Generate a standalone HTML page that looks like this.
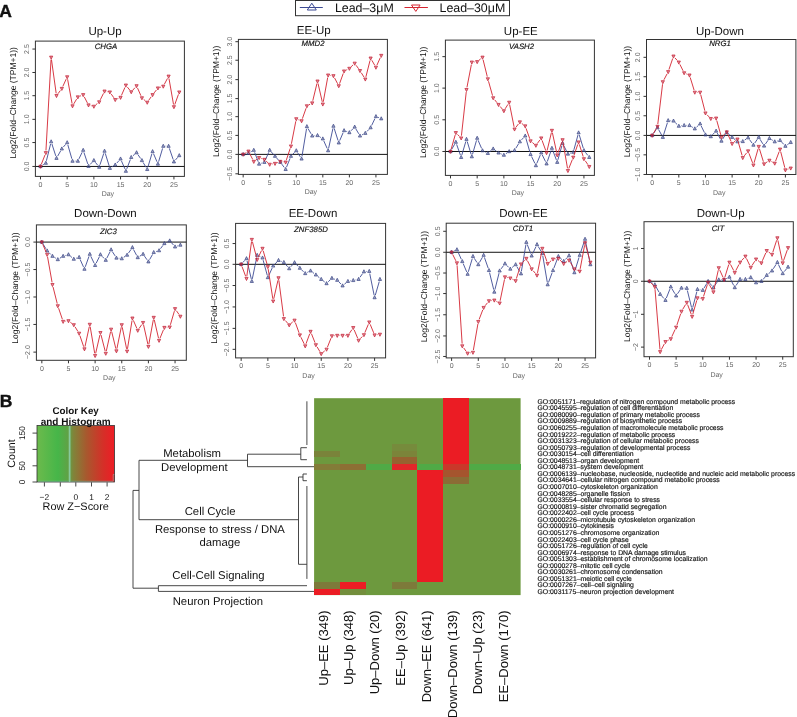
<!DOCTYPE html>
<html><head><meta charset="utf-8"><style>
html,body{margin:0;padding:0;background:#fff;}
svg{display:block;font-family:"Liberation Sans", sans-serif;text-rendering:geometricPrecision;will-change:transform;}
</style></head><body>
<svg width="797" height="717" viewBox="0 0 797 717">
<rect width="797" height="717" fill="#fff"/>
<text x="105.00" y="34.70" font-size="11.5" text-anchor="middle" fill="#111">Up-Up</text>
<text x="106.00" y="49.30" font-size="7.8" font-style="italic" text-anchor="middle" fill="#111" stroke="#111" stroke-width="0.15">CHGA</text>
<rect x="35.40" y="41.10" width="149.00" height="135.30" fill="none" stroke="#333" stroke-width="1"/>
<line x1="35.40" y1="166.44" x2="184.40" y2="166.44" stroke="#111" stroke-width="1"/>
<line x1="32.40" y1="166.44" x2="35.40" y2="166.44" stroke="#333" stroke-width="1"/>
<text transform="translate(28.90,166.44) rotate(-90)" font-size="7" text-anchor="middle" fill="#666">0.0</text>
<line x1="32.40" y1="142.56" x2="35.40" y2="142.56" stroke="#333" stroke-width="1"/>
<text transform="translate(28.90,142.56) rotate(-90)" font-size="7" text-anchor="middle" fill="#666">0.5</text>
<line x1="32.40" y1="119.35" x2="35.40" y2="119.35" stroke="#333" stroke-width="1"/>
<text transform="translate(28.90,119.35) rotate(-90)" font-size="7" text-anchor="middle" fill="#666">1.0</text>
<line x1="32.40" y1="95.70" x2="35.40" y2="95.70" stroke="#333" stroke-width="1"/>
<text transform="translate(28.90,95.70) rotate(-90)" font-size="7" text-anchor="middle" fill="#666">1.5</text>
<line x1="32.40" y1="72.49" x2="35.40" y2="72.49" stroke="#333" stroke-width="1"/>
<text transform="translate(28.90,72.49) rotate(-90)" font-size="7" text-anchor="middle" fill="#666">2.0</text>
<line x1="32.40" y1="49.06" x2="35.40" y2="49.06" stroke="#333" stroke-width="1"/>
<text transform="translate(28.90,49.06) rotate(-90)" font-size="7" text-anchor="middle" fill="#666">2.5</text>
<line x1="40.49" y1="176.40" x2="40.49" y2="179.40" stroke="#333" stroke-width="1"/>
<text x="40.49" y="186.60" font-size="7" text-anchor="middle" fill="#666">0</text>
<line x1="67.18" y1="176.40" x2="67.18" y2="179.40" stroke="#333" stroke-width="1"/>
<text x="67.18" y="186.60" font-size="7" text-anchor="middle" fill="#666">5</text>
<line x1="93.87" y1="176.40" x2="93.87" y2="179.40" stroke="#333" stroke-width="1"/>
<text x="93.87" y="186.60" font-size="7" text-anchor="middle" fill="#666">10</text>
<line x1="120.56" y1="176.40" x2="120.56" y2="179.40" stroke="#333" stroke-width="1"/>
<text x="120.56" y="186.60" font-size="7" text-anchor="middle" fill="#666">15</text>
<line x1="147.24" y1="176.40" x2="147.24" y2="179.40" stroke="#333" stroke-width="1"/>
<text x="147.24" y="186.60" font-size="7" text-anchor="middle" fill="#666">20</text>
<line x1="173.93" y1="176.40" x2="173.93" y2="179.40" stroke="#333" stroke-width="1"/>
<text x="173.93" y="186.60" font-size="7" text-anchor="middle" fill="#666">25</text>
<text x="107.90" y="196.40" font-size="7" text-anchor="middle" fill="#666">Day</text>
<text transform="translate(16.40,102.75) rotate(-90)" font-size="8.5" text-anchor="middle" fill="#111">Log2(Fold–Change (TPM+1))</text>
<path d="M42.52,165.16L43.79,164.36M46.41,160.76L50.58,144.00M51.90,143.95L55.76,155.90M57.69,156.09L60.65,150.89M63.40,146.98L65.62,144.38M67.84,144.87L71.85,158.77M74.91,161.08L75.45,161.08M78.91,158.92L82.14,152.30M83.95,152.42L87.77,163.94M90.15,164.45L92.24,162.18M95.36,162.29L97.71,165.23M99.96,164.83L103.79,153.32M105.25,153.33L109.17,165.93M111.91,166.95L113.18,166.15M116.81,163.08L118.96,160.65M121.51,161.05L124.94,168.92M126.76,168.88L130.37,159.53M133.03,155.70L134.76,154.18M137.92,154.58L140.55,158.43M143.14,162.47L146.01,167.28M147.93,167.04L151.89,153.78M153.52,153.69L156.98,161.77M158.61,161.68L162.57,148.43M165.66,146.13L166.20,146.13M169.37,148.40L173.16,159.48M175.49,159.93L177.71,157.33" fill="none" stroke="#3d4b94" stroke-width="0.9"/>
<path d="M38.89,167.64L40.49,164.54L42.09,167.64Z" fill="#3a4585" fill-opacity="0.5" stroke="#3a4585" stroke-width="0.7"/>
<path d="M44.23,164.29L45.83,161.19L47.43,164.29Z" fill="#3a4585" fill-opacity="0.5" stroke="#3a4585" stroke-width="0.7"/>
<path d="M49.56,142.87L51.16,139.77L52.76,142.87Z" fill="#3a4585" fill-opacity="0.5" stroke="#3a4585" stroke-width="0.7"/>
<path d="M54.90,159.38L56.50,156.28L58.10,159.38Z" fill="#3a4585" fill-opacity="0.5" stroke="#3a4585" stroke-width="0.7"/>
<path d="M60.24,150.01L61.84,146.91L63.44,150.01Z" fill="#3a4585" fill-opacity="0.5" stroke="#3a4585" stroke-width="0.7"/>
<path d="M65.58,143.76L67.18,140.66L68.78,143.76Z" fill="#3a4585" fill-opacity="0.5" stroke="#3a4585" stroke-width="0.7"/>
<path d="M70.91,162.28L72.51,159.18L74.11,162.28Z" fill="#3a4585" fill-opacity="0.5" stroke="#3a4585" stroke-width="0.7"/>
<path d="M76.25,162.28L77.85,159.18L79.45,162.28Z" fill="#3a4585" fill-opacity="0.5" stroke="#3a4585" stroke-width="0.7"/>
<path d="M81.59,151.35L83.19,148.25L84.79,151.35Z" fill="#3a4585" fill-opacity="0.5" stroke="#3a4585" stroke-width="0.7"/>
<path d="M86.93,167.41L88.53,164.31L90.13,167.41Z" fill="#3a4585" fill-opacity="0.5" stroke="#3a4585" stroke-width="0.7"/>
<path d="M92.27,161.61L93.87,158.51L95.47,161.61Z" fill="#3a4585" fill-opacity="0.5" stroke="#3a4585" stroke-width="0.7"/>
<path d="M97.60,168.31L99.20,165.21L100.80,168.31Z" fill="#3a4585" fill-opacity="0.5" stroke="#3a4585" stroke-width="0.7"/>
<path d="M102.94,152.24L104.54,149.14L106.14,152.24Z" fill="#3a4585" fill-opacity="0.5" stroke="#3a4585" stroke-width="0.7"/>
<path d="M108.28,169.42L109.88,166.32L111.48,169.42Z" fill="#3a4585" fill-opacity="0.5" stroke="#3a4585" stroke-width="0.7"/>
<path d="M113.62,166.07L115.22,162.97L116.82,166.07Z" fill="#3a4585" fill-opacity="0.5" stroke="#3a4585" stroke-width="0.7"/>
<path d="M118.96,160.05L120.56,156.95L122.16,160.05Z" fill="#3a4585" fill-opacity="0.5" stroke="#3a4585" stroke-width="0.7"/>
<path d="M124.29,172.32L125.89,169.22L127.49,172.32Z" fill="#3a4585" fill-opacity="0.5" stroke="#3a4585" stroke-width="0.7"/>
<path d="M129.63,158.49L131.23,155.39L132.83,158.49Z" fill="#3a4585" fill-opacity="0.5" stroke="#3a4585" stroke-width="0.7"/>
<path d="M134.97,153.80L136.57,150.70L138.17,153.80Z" fill="#3a4585" fill-opacity="0.5" stroke="#3a4585" stroke-width="0.7"/>
<path d="M140.31,161.61L141.91,158.51L143.51,161.61Z" fill="#3a4585" fill-opacity="0.5" stroke="#3a4585" stroke-width="0.7"/>
<path d="M145.64,170.54L147.24,167.44L148.84,170.54Z" fill="#3a4585" fill-opacity="0.5" stroke="#3a4585" stroke-width="0.7"/>
<path d="M150.98,152.69L152.58,149.59L154.18,152.69Z" fill="#3a4585" fill-opacity="0.5" stroke="#3a4585" stroke-width="0.7"/>
<path d="M156.32,165.18L157.92,162.08L159.52,165.18Z" fill="#3a4585" fill-opacity="0.5" stroke="#3a4585" stroke-width="0.7"/>
<path d="M161.66,147.33L163.26,144.23L164.86,147.33Z" fill="#3a4585" fill-opacity="0.5" stroke="#3a4585" stroke-width="0.7"/>
<path d="M167.00,147.33L168.60,144.23L170.20,147.33Z" fill="#3a4585" fill-opacity="0.5" stroke="#3a4585" stroke-width="0.7"/>
<path d="M172.33,162.95L173.93,159.85L175.53,162.95Z" fill="#3a4585" fill-opacity="0.5" stroke="#3a4585" stroke-width="0.7"/>
<path d="M177.67,156.70L179.27,153.60L180.87,156.70Z" fill="#3a4585" fill-opacity="0.5" stroke="#3a4585" stroke-width="0.7"/>
<path d="M41.36,164.20L44.95,155.06M45.96,150.43L51.03,59.71M51.49,59.69L56.17,93.32M57.94,93.78L60.40,90.48M62.84,86.38L66.17,79.13M67.61,79.31L72.08,103.60M73.75,103.90L76.62,99.10M80.07,96.11L80.98,95.73M84.30,96.93L87.42,102.94M90.86,105.65L91.54,105.82M95.71,104.87L97.36,103.49M100.27,99.80L103.47,93.38M106.91,91.63L107.51,91.73M111.26,94.09L113.84,97.75M117.43,98.79L118.34,98.41M121.51,95.28L124.94,87.41M127.39,87.09L129.73,90.03M132.82,90.11L134.98,87.68M137.54,88.07L140.93,95.73M143.75,99.47L145.40,100.85M148.63,100.43L151.20,96.77M154.08,92.93L156.42,89.99M160.20,87.35L160.98,87.09M164.38,84.21L167.47,78.40M169.01,78.65L173.52,104.49M174.75,104.60L178.45,94.38" fill="none" stroke="#d42430" stroke-width="0.9"/>
<path d="M38.89,165.24L40.49,168.34L42.09,165.24Z" fill="#c41c32" fill-opacity="0.5" stroke="#c41c32" stroke-width="0.7"/>
<path d="M44.23,151.62L45.83,154.72L47.43,151.62Z" fill="#c41c32" fill-opacity="0.5" stroke="#c41c32" stroke-width="0.7"/>
<path d="M49.56,56.12L51.16,59.22L52.76,56.12Z" fill="#c41c32" fill-opacity="0.5" stroke="#c41c32" stroke-width="0.7"/>
<path d="M54.90,94.50L56.50,97.60L58.10,94.50Z" fill="#c41c32" fill-opacity="0.5" stroke="#c41c32" stroke-width="0.7"/>
<path d="M60.24,87.36L61.84,90.46L63.44,87.36Z" fill="#c41c32" fill-opacity="0.5" stroke="#c41c32" stroke-width="0.7"/>
<path d="M65.58,75.75L67.18,78.85L68.78,75.75Z" fill="#c41c32" fill-opacity="0.5" stroke="#c41c32" stroke-width="0.7"/>
<path d="M70.91,104.76L72.51,107.86L74.11,104.76Z" fill="#c41c32" fill-opacity="0.5" stroke="#c41c32" stroke-width="0.7"/>
<path d="M76.25,95.84L77.85,98.94L79.45,95.84Z" fill="#c41c32" fill-opacity="0.5" stroke="#c41c32" stroke-width="0.7"/>
<path d="M81.59,93.60L83.19,96.70L84.79,93.60Z" fill="#c41c32" fill-opacity="0.5" stroke="#c41c32" stroke-width="0.7"/>
<path d="M86.93,103.87L88.53,106.97L90.13,103.87Z" fill="#c41c32" fill-opacity="0.5" stroke="#c41c32" stroke-width="0.7"/>
<path d="M92.27,105.21L93.87,108.31L95.47,105.21Z" fill="#c41c32" fill-opacity="0.5" stroke="#c41c32" stroke-width="0.7"/>
<path d="M97.60,100.75L99.20,103.85L100.80,100.75Z" fill="#c41c32" fill-opacity="0.5" stroke="#c41c32" stroke-width="0.7"/>
<path d="M102.94,90.03L104.54,93.13L106.14,90.03Z" fill="#c41c32" fill-opacity="0.5" stroke="#c41c32" stroke-width="0.7"/>
<path d="M108.28,90.93L109.88,94.03L111.48,90.93Z" fill="#c41c32" fill-opacity="0.5" stroke="#c41c32" stroke-width="0.7"/>
<path d="M113.62,98.51L115.22,101.61L116.82,98.51Z" fill="#c41c32" fill-opacity="0.5" stroke="#c41c32" stroke-width="0.7"/>
<path d="M118.96,96.28L120.56,99.38L122.16,96.28Z" fill="#c41c32" fill-opacity="0.5" stroke="#c41c32" stroke-width="0.7"/>
<path d="M124.29,84.01L125.89,87.11L127.49,84.01Z" fill="#c41c32" fill-opacity="0.5" stroke="#c41c32" stroke-width="0.7"/>
<path d="M129.63,90.70L131.23,93.80L132.83,90.70Z" fill="#c41c32" fill-opacity="0.5" stroke="#c41c32" stroke-width="0.7"/>
<path d="M134.97,84.68L136.57,87.78L138.17,84.68Z" fill="#c41c32" fill-opacity="0.5" stroke="#c41c32" stroke-width="0.7"/>
<path d="M140.31,96.73L141.91,99.83L143.51,96.73Z" fill="#c41c32" fill-opacity="0.5" stroke="#c41c32" stroke-width="0.7"/>
<path d="M145.64,101.19L147.24,104.29L148.84,101.19Z" fill="#c41c32" fill-opacity="0.5" stroke="#c41c32" stroke-width="0.7"/>
<path d="M150.98,93.60L152.58,96.70L154.18,93.60Z" fill="#c41c32" fill-opacity="0.5" stroke="#c41c32" stroke-width="0.7"/>
<path d="M156.32,86.91L157.92,90.01L159.52,86.91Z" fill="#c41c32" fill-opacity="0.5" stroke="#c41c32" stroke-width="0.7"/>
<path d="M161.66,85.12L163.26,88.22L164.86,85.12Z" fill="#c41c32" fill-opacity="0.5" stroke="#c41c32" stroke-width="0.7"/>
<path d="M167.00,75.08L168.60,78.18L170.20,75.08Z" fill="#c41c32" fill-opacity="0.5" stroke="#c41c32" stroke-width="0.7"/>
<path d="M172.33,105.65L173.93,108.75L175.53,105.65Z" fill="#c41c32" fill-opacity="0.5" stroke="#c41c32" stroke-width="0.7"/>
<path d="M177.67,90.93L179.27,94.03L180.87,90.93Z" fill="#c41c32" fill-opacity="0.5" stroke="#c41c32" stroke-width="0.7"/>
<text x="313.70" y="34.40" font-size="11.5" text-anchor="middle" fill="#111">EE-Up</text>
<text x="313.00" y="45.90" font-size="7.8" font-style="italic" text-anchor="middle" fill="#111" stroke="#111" stroke-width="0.15">MMD2</text>
<rect x="238.40" y="39.40" width="149.00" height="135.00" fill="none" stroke="#333" stroke-width="1"/>
<line x1="238.40" y1="154.39" x2="387.40" y2="154.39" stroke="#111" stroke-width="1"/>
<line x1="235.40" y1="173.80" x2="238.40" y2="173.80" stroke="#333" stroke-width="1"/>
<text transform="translate(231.90,173.80) rotate(-90)" font-size="7" text-anchor="middle" fill="#666">−0.5</text>
<line x1="235.40" y1="154.39" x2="238.40" y2="154.39" stroke="#333" stroke-width="1"/>
<text transform="translate(231.90,154.39) rotate(-90)" font-size="7" text-anchor="middle" fill="#666">0.0</text>
<line x1="235.40" y1="135.42" x2="238.40" y2="135.42" stroke="#333" stroke-width="1"/>
<text transform="translate(231.90,135.42) rotate(-90)" font-size="7" text-anchor="middle" fill="#666">0.5</text>
<line x1="235.40" y1="116.67" x2="238.40" y2="116.67" stroke="#333" stroke-width="1"/>
<text transform="translate(231.90,116.67) rotate(-90)" font-size="7" text-anchor="middle" fill="#666">1.0</text>
<line x1="235.40" y1="98.60" x2="238.40" y2="98.60" stroke="#333" stroke-width="1"/>
<text transform="translate(231.90,98.60) rotate(-90)" font-size="7" text-anchor="middle" fill="#666">1.5</text>
<line x1="235.40" y1="79.63" x2="238.40" y2="79.63" stroke="#333" stroke-width="1"/>
<text transform="translate(231.90,79.63) rotate(-90)" font-size="7" text-anchor="middle" fill="#666">2.0</text>
<line x1="235.40" y1="60.22" x2="238.40" y2="60.22" stroke="#333" stroke-width="1"/>
<text transform="translate(231.90,60.22) rotate(-90)" font-size="7" text-anchor="middle" fill="#666">2.5</text>
<line x1="235.40" y1="41.69" x2="238.40" y2="41.69" stroke="#333" stroke-width="1"/>
<text transform="translate(231.90,41.69) rotate(-90)" font-size="7" text-anchor="middle" fill="#666">3.0</text>
<line x1="243.16" y1="174.40" x2="243.16" y2="177.40" stroke="#333" stroke-width="1"/>
<text x="243.16" y="184.60" font-size="7" text-anchor="middle" fill="#666">0</text>
<line x1="269.71" y1="174.40" x2="269.71" y2="177.40" stroke="#333" stroke-width="1"/>
<text x="269.71" y="184.60" font-size="7" text-anchor="middle" fill="#666">5</text>
<line x1="296.27" y1="174.40" x2="296.27" y2="177.40" stroke="#333" stroke-width="1"/>
<text x="296.27" y="184.60" font-size="7" text-anchor="middle" fill="#666">10</text>
<line x1="322.82" y1="174.40" x2="322.82" y2="177.40" stroke="#333" stroke-width="1"/>
<text x="322.82" y="184.60" font-size="7" text-anchor="middle" fill="#666">15</text>
<line x1="349.38" y1="174.40" x2="349.38" y2="177.40" stroke="#333" stroke-width="1"/>
<text x="349.38" y="184.60" font-size="7" text-anchor="middle" fill="#666">20</text>
<line x1="375.93" y1="174.40" x2="375.93" y2="177.40" stroke="#333" stroke-width="1"/>
<text x="375.93" y="184.60" font-size="7" text-anchor="middle" fill="#666">25</text>
<text x="310.90" y="194.40" font-size="7" text-anchor="middle" fill="#666">Day</text>
<text transform="translate(219.40,101.40) rotate(-90)" font-size="8.5" text-anchor="middle" fill="#111">Log2(Fold–Change (TPM+1))</text>
<path d="M245.51,153.89L246.12,153.76M250.54,152.05L251.71,151.36M254.64,152.39L258.23,161.74M261.37,163.22L262.13,162.96M265.37,160.00L268.74,152.34M271.30,151.95L273.44,154.37M276.61,157.97L278.75,160.40M281.77,164.12L284.21,167.41M286.54,167.11L290.06,158.40M292.61,154.43L294.61,152.33M297.57,152.61L300.28,156.83M301.97,156.48L306.50,128.86M308.07,128.58L311.02,133.78M314.59,135.66L315.12,135.62M319.54,136.70L320.79,137.49M323.81,140.96L327.15,148.40M328.64,148.25L332.94,128.39M334.17,128.33L338.03,140.49M339.71,140.58L343.11,132.71M346.31,131.36L347.13,131.67M351.03,130.78L353.03,128.68M355.92,129.00L358.77,133.80M362.14,134.78L363.17,134.27M366.97,131.45L368.97,129.35M371.65,125.44L374.90,118.62M378.15,117.38L379.03,117.75" fill="none" stroke="#3d4b94" stroke-width="0.9"/>
<path d="M241.56,155.59L243.16,152.49L244.76,155.59Z" fill="#3a4585" fill-opacity="0.5" stroke="#3a4585" stroke-width="0.7"/>
<path d="M246.87,154.47L248.47,151.37L250.07,154.47Z" fill="#3a4585" fill-opacity="0.5" stroke="#3a4585" stroke-width="0.7"/>
<path d="M252.18,151.35L253.78,148.25L255.38,151.35Z" fill="#3a4585" fill-opacity="0.5" stroke="#3a4585" stroke-width="0.7"/>
<path d="M257.49,165.18L259.09,162.08L260.69,165.18Z" fill="#3a4585" fill-opacity="0.5" stroke="#3a4585" stroke-width="0.7"/>
<path d="M262.80,163.40L264.40,160.30L266.00,163.40Z" fill="#3a4585" fill-opacity="0.5" stroke="#3a4585" stroke-width="0.7"/>
<path d="M268.11,151.35L269.71,148.25L271.31,151.35Z" fill="#3a4585" fill-opacity="0.5" stroke="#3a4585" stroke-width="0.7"/>
<path d="M273.42,157.37L275.02,154.27L276.62,157.37Z" fill="#3a4585" fill-opacity="0.5" stroke="#3a4585" stroke-width="0.7"/>
<path d="M278.73,163.40L280.33,160.30L281.93,163.40Z" fill="#3a4585" fill-opacity="0.5" stroke="#3a4585" stroke-width="0.7"/>
<path d="M284.05,170.54L285.65,167.44L287.25,170.54Z" fill="#3a4585" fill-opacity="0.5" stroke="#3a4585" stroke-width="0.7"/>
<path d="M289.36,157.37L290.96,154.27L292.56,157.37Z" fill="#3a4585" fill-opacity="0.5" stroke="#3a4585" stroke-width="0.7"/>
<path d="M294.67,151.79L296.27,148.69L297.87,151.79Z" fill="#3a4585" fill-opacity="0.5" stroke="#3a4585" stroke-width="0.7"/>
<path d="M299.98,160.05L301.58,156.95L303.18,160.05Z" fill="#3a4585" fill-opacity="0.5" stroke="#3a4585" stroke-width="0.7"/>
<path d="M305.29,127.69L306.89,124.59L308.49,127.69Z" fill="#3a4585" fill-opacity="0.5" stroke="#3a4585" stroke-width="0.7"/>
<path d="M310.60,137.06L312.20,133.96L313.80,137.06Z" fill="#3a4585" fill-opacity="0.5" stroke="#3a4585" stroke-width="0.7"/>
<path d="M315.91,136.62L317.51,133.52L319.11,136.62Z" fill="#3a4585" fill-opacity="0.5" stroke="#3a4585" stroke-width="0.7"/>
<path d="M321.22,139.97L322.82,136.87L324.42,139.97Z" fill="#3a4585" fill-opacity="0.5" stroke="#3a4585" stroke-width="0.7"/>
<path d="M326.53,151.79L328.13,148.69L329.73,151.79Z" fill="#3a4585" fill-opacity="0.5" stroke="#3a4585" stroke-width="0.7"/>
<path d="M331.84,127.25L333.44,124.15L335.04,127.25Z" fill="#3a4585" fill-opacity="0.5" stroke="#3a4585" stroke-width="0.7"/>
<path d="M337.16,143.98L338.76,140.88L340.36,143.98Z" fill="#3a4585" fill-opacity="0.5" stroke="#3a4585" stroke-width="0.7"/>
<path d="M342.47,131.71L344.07,128.61L345.67,131.71Z" fill="#3a4585" fill-opacity="0.5" stroke="#3a4585" stroke-width="0.7"/>
<path d="M347.78,133.72L349.38,130.62L350.98,133.72Z" fill="#3a4585" fill-opacity="0.5" stroke="#3a4585" stroke-width="0.7"/>
<path d="M353.09,128.14L354.69,125.04L356.29,128.14Z" fill="#3a4585" fill-opacity="0.5" stroke="#3a4585" stroke-width="0.7"/>
<path d="M358.40,137.06L360.00,133.96L361.60,137.06Z" fill="#3a4585" fill-opacity="0.5" stroke="#3a4585" stroke-width="0.7"/>
<path d="M363.71,134.39L365.31,131.29L366.91,134.39Z" fill="#3a4585" fill-opacity="0.5" stroke="#3a4585" stroke-width="0.7"/>
<path d="M369.02,128.81L370.62,125.71L372.22,128.81Z" fill="#3a4585" fill-opacity="0.5" stroke="#3a4585" stroke-width="0.7"/>
<path d="M374.33,117.65L375.93,114.55L377.53,117.65Z" fill="#3a4585" fill-opacity="0.5" stroke="#3a4585" stroke-width="0.7"/>
<path d="M379.64,119.88L381.24,116.78L382.84,119.88Z" fill="#3a4585" fill-opacity="0.5" stroke="#3a4585" stroke-width="0.7"/>
<path d="M245.23,153.17L246.40,152.48M249.57,153.39L252.68,159.40M255.73,160.13L257.14,159.13M261.37,158.50L262.13,158.75M266.16,161.15L267.95,162.80M272.08,164.03L272.66,163.93M277.27,162.69L278.09,162.38M282.72,161.83L283.26,161.90M286.40,159.92L290.20,148.41M291.42,143.77L295.81,121.26M298.51,119.75L299.33,120.06M302.38,118.65L306.09,108.22M309.00,104.81L310.09,104.21M312.77,100.73L316.95,83.52M318.05,83.53L322.28,101.84M323.26,101.82L327.70,77.53M330.52,75.47L331.06,75.54M334.57,77.96L337.63,83.76M339.57,83.62L343.25,73.41M346.21,70.07L347.23,69.55M351.10,66.81L352.96,65.01M356.09,65.29L358.60,68.76M361.27,72.74L364.04,77.15M365.90,76.86L370.03,60.53M371.83,60.28L374.73,65.28M376.92,65.17L380.26,57.72" fill="none" stroke="#d42430" stroke-width="0.9"/>
<path d="M241.56,153.19L243.16,156.29L244.76,153.19Z" fill="#c41c32" fill-opacity="0.5" stroke="#c41c32" stroke-width="0.7"/>
<path d="M246.87,150.06L248.47,153.16L250.07,150.06Z" fill="#c41c32" fill-opacity="0.5" stroke="#c41c32" stroke-width="0.7"/>
<path d="M252.18,160.33L253.78,163.43L255.38,160.33Z" fill="#c41c32" fill-opacity="0.5" stroke="#c41c32" stroke-width="0.7"/>
<path d="M257.49,156.53L259.09,159.63L260.69,156.53Z" fill="#c41c32" fill-opacity="0.5" stroke="#c41c32" stroke-width="0.7"/>
<path d="M262.80,158.32L264.40,161.42L266.00,158.32Z" fill="#c41c32" fill-opacity="0.5" stroke="#c41c32" stroke-width="0.7"/>
<path d="M268.11,163.23L269.71,166.33L271.31,163.23Z" fill="#c41c32" fill-opacity="0.5" stroke="#c41c32" stroke-width="0.7"/>
<path d="M273.42,162.34L275.02,165.44L276.62,162.34Z" fill="#c41c32" fill-opacity="0.5" stroke="#c41c32" stroke-width="0.7"/>
<path d="M278.73,160.33L280.33,163.43L281.93,160.33Z" fill="#c41c32" fill-opacity="0.5" stroke="#c41c32" stroke-width="0.7"/>
<path d="M284.05,161.00L285.65,164.10L287.25,161.00Z" fill="#c41c32" fill-opacity="0.5" stroke="#c41c32" stroke-width="0.7"/>
<path d="M289.36,144.93L290.96,148.03L292.56,144.93Z" fill="#c41c32" fill-opacity="0.5" stroke="#c41c32" stroke-width="0.7"/>
<path d="M294.67,117.71L296.27,120.81L297.87,117.71Z" fill="#c41c32" fill-opacity="0.5" stroke="#c41c32" stroke-width="0.7"/>
<path d="M299.98,119.71L301.58,122.81L303.18,119.71Z" fill="#c41c32" fill-opacity="0.5" stroke="#c41c32" stroke-width="0.7"/>
<path d="M305.29,104.76L306.89,107.86L308.49,104.76Z" fill="#c41c32" fill-opacity="0.5" stroke="#c41c32" stroke-width="0.7"/>
<path d="M310.60,101.86L312.20,104.96L313.80,101.86Z" fill="#c41c32" fill-opacity="0.5" stroke="#c41c32" stroke-width="0.7"/>
<path d="M315.91,79.99L317.51,83.09L319.11,79.99Z" fill="#c41c32" fill-opacity="0.5" stroke="#c41c32" stroke-width="0.7"/>
<path d="M321.22,102.98L322.82,106.08L324.42,102.98Z" fill="#c41c32" fill-opacity="0.5" stroke="#c41c32" stroke-width="0.7"/>
<path d="M326.53,73.97L328.13,77.07L329.73,73.97Z" fill="#c41c32" fill-opacity="0.5" stroke="#c41c32" stroke-width="0.7"/>
<path d="M331.84,74.64L333.44,77.74L335.04,74.64Z" fill="#c41c32" fill-opacity="0.5" stroke="#c41c32" stroke-width="0.7"/>
<path d="M337.16,84.68L338.76,87.78L340.36,84.68Z" fill="#c41c32" fill-opacity="0.5" stroke="#c41c32" stroke-width="0.7"/>
<path d="M342.47,69.95L344.07,73.05L345.67,69.95Z" fill="#c41c32" fill-opacity="0.5" stroke="#c41c32" stroke-width="0.7"/>
<path d="M347.78,67.27L349.38,70.37L350.98,67.27Z" fill="#c41c32" fill-opacity="0.5" stroke="#c41c32" stroke-width="0.7"/>
<path d="M353.09,62.14L354.69,65.24L356.29,62.14Z" fill="#c41c32" fill-opacity="0.5" stroke="#c41c32" stroke-width="0.7"/>
<path d="M358.40,69.50L360.00,72.60L361.60,69.50Z" fill="#c41c32" fill-opacity="0.5" stroke="#c41c32" stroke-width="0.7"/>
<path d="M363.71,77.98L365.31,81.08L366.91,77.98Z" fill="#c41c32" fill-opacity="0.5" stroke="#c41c32" stroke-width="0.7"/>
<path d="M369.02,57.01L370.62,60.11L372.22,57.01Z" fill="#c41c32" fill-opacity="0.5" stroke="#c41c32" stroke-width="0.7"/>
<path d="M374.33,66.16L375.93,69.26L377.53,66.16Z" fill="#c41c32" fill-opacity="0.5" stroke="#c41c32" stroke-width="0.7"/>
<path d="M379.64,54.33L381.24,57.43L382.84,54.33Z" fill="#c41c32" fill-opacity="0.5" stroke="#c41c32" stroke-width="0.7"/>
<text x="520.80" y="34.60" font-size="11.5" text-anchor="middle" fill="#111">Up-EE</text>
<text x="521.50" y="49.30" font-size="7.8" font-style="italic" text-anchor="middle" fill="#111" stroke="#111" stroke-width="0.15">VASH2</text>
<rect x="445.40" y="40.10" width="149.00" height="135.30" fill="none" stroke="#333" stroke-width="1"/>
<line x1="445.40" y1="151.49" x2="594.40" y2="151.49" stroke="#111" stroke-width="1"/>
<line x1="442.40" y1="151.49" x2="445.40" y2="151.49" stroke="#333" stroke-width="1"/>
<text transform="translate(438.90,151.49) rotate(-90)" font-size="7" text-anchor="middle" fill="#666">0.0</text>
<line x1="442.40" y1="119.80" x2="445.40" y2="119.80" stroke="#333" stroke-width="1"/>
<text transform="translate(438.90,119.80) rotate(-90)" font-size="7" text-anchor="middle" fill="#666">0.5</text>
<line x1="442.40" y1="88.11" x2="445.40" y2="88.11" stroke="#333" stroke-width="1"/>
<text transform="translate(438.90,88.11) rotate(-90)" font-size="7" text-anchor="middle" fill="#666">1.0</text>
<line x1="442.40" y1="56.65" x2="445.40" y2="56.65" stroke="#333" stroke-width="1"/>
<text transform="translate(438.90,56.65) rotate(-90)" font-size="7" text-anchor="middle" fill="#666">1.5</text>
<line x1="450.49" y1="175.40" x2="450.49" y2="178.40" stroke="#333" stroke-width="1"/>
<text x="450.49" y="185.60" font-size="7" text-anchor="middle" fill="#666">0</text>
<line x1="477.18" y1="175.40" x2="477.18" y2="178.40" stroke="#333" stroke-width="1"/>
<text x="477.18" y="185.60" font-size="7" text-anchor="middle" fill="#666">5</text>
<line x1="503.87" y1="175.40" x2="503.87" y2="178.40" stroke="#333" stroke-width="1"/>
<text x="503.87" y="185.60" font-size="7" text-anchor="middle" fill="#666">10</text>
<line x1="530.56" y1="175.40" x2="530.56" y2="178.40" stroke="#333" stroke-width="1"/>
<text x="530.56" y="185.60" font-size="7" text-anchor="middle" fill="#666">15</text>
<line x1="557.24" y1="175.40" x2="557.24" y2="178.40" stroke="#333" stroke-width="1"/>
<text x="557.24" y="185.60" font-size="7" text-anchor="middle" fill="#666">20</text>
<line x1="583.93" y1="175.40" x2="583.93" y2="178.40" stroke="#333" stroke-width="1"/>
<text x="583.93" y="185.60" font-size="7" text-anchor="middle" fill="#666">25</text>
<text x="517.90" y="195.40" font-size="7" text-anchor="middle" fill="#666">Day</text>
<text transform="translate(426.40,102.25) rotate(-90)" font-size="8.5" text-anchor="middle" fill="#111">Log2(Fold–Change (TPM+1))</text>
<path d="M451.68,149.40L454.64,144.20M456.62,144.38L460.37,155.02M461.84,154.99L465.82,141.51M467.21,141.51L471.14,154.32M472.50,154.31L476.51,140.40M478.12,140.30L481.57,148.39M484.66,151.67L485.71,152.19M489.69,151.73L491.35,150.35M495.11,150.25L496.61,151.38M500.74,153.75L501.65,154.13M505.86,153.72L507.21,152.82M511.55,150.99L512.19,150.86M515.80,148.32L518.62,143.71M521.50,139.90L523.59,137.63M525.88,138.17L529.89,152.08M531.59,156.55L534.86,163.38M536.82,163.33L540.30,155.04M542.28,154.98L545.52,161.60M547.34,161.49L551.13,150.41M552.76,150.38L556.39,159.95M557.89,159.89L561.93,145.54M563.65,145.38L566.85,151.79M570.20,153.18L570.98,152.92M573.89,149.84L577.96,135.05M579.29,135.04L583.24,148.07M585.40,152.27L587.80,155.39" fill="none" stroke="#3d4b94" stroke-width="0.9"/>
<path d="M448.89,152.69L450.49,149.59L452.09,152.69Z" fill="#3a4585" fill-opacity="0.5" stroke="#3a4585" stroke-width="0.7"/>
<path d="M454.23,143.31L455.83,140.21L457.43,143.31Z" fill="#3a4585" fill-opacity="0.5" stroke="#3a4585" stroke-width="0.7"/>
<path d="M459.56,158.49L461.16,155.39L462.76,158.49Z" fill="#3a4585" fill-opacity="0.5" stroke="#3a4585" stroke-width="0.7"/>
<path d="M464.90,140.41L466.50,137.31L468.10,140.41Z" fill="#3a4585" fill-opacity="0.5" stroke="#3a4585" stroke-width="0.7"/>
<path d="M470.24,157.82L471.84,154.72L473.44,157.82Z" fill="#3a4585" fill-opacity="0.5" stroke="#3a4585" stroke-width="0.7"/>
<path d="M475.58,139.30L477.18,136.20L478.78,139.30Z" fill="#3a4585" fill-opacity="0.5" stroke="#3a4585" stroke-width="0.7"/>
<path d="M480.91,151.79L482.51,148.69L484.11,151.79Z" fill="#3a4585" fill-opacity="0.5" stroke="#3a4585" stroke-width="0.7"/>
<path d="M486.25,154.47L487.85,151.37L489.45,154.47Z" fill="#3a4585" fill-opacity="0.5" stroke="#3a4585" stroke-width="0.7"/>
<path d="M491.59,150.01L493.19,146.91L494.79,150.01Z" fill="#3a4585" fill-opacity="0.5" stroke="#3a4585" stroke-width="0.7"/>
<path d="M496.93,154.02L498.53,150.92L500.13,154.02Z" fill="#3a4585" fill-opacity="0.5" stroke="#3a4585" stroke-width="0.7"/>
<path d="M502.27,156.26L503.87,153.16L505.47,156.26Z" fill="#3a4585" fill-opacity="0.5" stroke="#3a4585" stroke-width="0.7"/>
<path d="M507.60,152.69L509.20,149.59L510.80,152.69Z" fill="#3a4585" fill-opacity="0.5" stroke="#3a4585" stroke-width="0.7"/>
<path d="M512.94,151.57L514.54,148.47L516.14,151.57Z" fill="#3a4585" fill-opacity="0.5" stroke="#3a4585" stroke-width="0.7"/>
<path d="M518.28,142.87L519.88,139.77L521.48,142.87Z" fill="#3a4585" fill-opacity="0.5" stroke="#3a4585" stroke-width="0.7"/>
<path d="M523.62,137.06L525.22,133.96L526.82,137.06Z" fill="#3a4585" fill-opacity="0.5" stroke="#3a4585" stroke-width="0.7"/>
<path d="M528.96,155.59L530.56,152.49L532.16,155.59Z" fill="#3a4585" fill-opacity="0.5" stroke="#3a4585" stroke-width="0.7"/>
<path d="M534.29,166.74L535.89,163.64L537.49,166.74Z" fill="#3a4585" fill-opacity="0.5" stroke="#3a4585" stroke-width="0.7"/>
<path d="M539.63,154.02L541.23,150.92L542.83,154.02Z" fill="#3a4585" fill-opacity="0.5" stroke="#3a4585" stroke-width="0.7"/>
<path d="M544.97,164.96L546.57,161.86L548.17,164.96Z" fill="#3a4585" fill-opacity="0.5" stroke="#3a4585" stroke-width="0.7"/>
<path d="M550.31,149.34L551.91,146.24L553.51,149.34Z" fill="#3a4585" fill-opacity="0.5" stroke="#3a4585" stroke-width="0.7"/>
<path d="M555.64,163.40L557.24,160.30L558.84,163.40Z" fill="#3a4585" fill-opacity="0.5" stroke="#3a4585" stroke-width="0.7"/>
<path d="M560.98,144.43L562.58,141.33L564.18,144.43Z" fill="#3a4585" fill-opacity="0.5" stroke="#3a4585" stroke-width="0.7"/>
<path d="M566.32,155.14L567.92,152.04L569.52,155.14Z" fill="#3a4585" fill-opacity="0.5" stroke="#3a4585" stroke-width="0.7"/>
<path d="M571.66,153.35L573.26,150.25L574.86,153.35Z" fill="#3a4585" fill-opacity="0.5" stroke="#3a4585" stroke-width="0.7"/>
<path d="M577.00,133.94L578.60,130.84L580.20,133.94Z" fill="#3a4585" fill-opacity="0.5" stroke="#3a4585" stroke-width="0.7"/>
<path d="M582.33,151.57L583.93,148.47L585.53,151.57Z" fill="#3a4585" fill-opacity="0.5" stroke="#3a4585" stroke-width="0.7"/>
<path d="M587.67,158.49L589.27,155.39L590.87,158.49Z" fill="#3a4585" fill-opacity="0.5" stroke="#3a4585" stroke-width="0.7"/>
<path d="M451.15,149.18L455.17,135.05M457.52,134.44L459.47,136.40M461.43,135.71L466.24,92.06M466.96,87.32L471.38,64.58M474.23,62.02L474.79,61.98M479.02,60.24L480.67,58.85M483.09,59.65L487.28,76.63M488.50,81.27L492.54,95.62M494.69,99.81L497.03,102.75M500.09,106.45L502.31,109.05M505.14,108.84L507.93,104.42M509.67,104.75L514.07,126.82M515.98,127.25L518.44,123.95M521.80,123.47L523.30,124.60M526.02,128.31L529.75,138.74M532.40,142.54L534.05,143.92M537.30,143.52L539.82,140.04M542.05,140.35L545.75,150.57M547.13,150.49L551.35,132.84M552.42,132.85L556.73,152.71M558.04,152.79L561.79,142.15M562.99,142.25L567.51,168.31M568.81,168.45L572.37,159.52M574.05,155.02L577.80,144.38M579.32,144.40L583.20,156.56M585.29,160.83L587.92,164.68" fill="none" stroke="#d42430" stroke-width="0.9"/>
<path d="M448.89,150.29L450.49,153.39L452.09,150.29Z" fill="#c41c32" fill-opacity="0.5" stroke="#c41c32" stroke-width="0.7"/>
<path d="M454.23,131.54L455.83,134.64L457.43,131.54Z" fill="#c41c32" fill-opacity="0.5" stroke="#c41c32" stroke-width="0.7"/>
<path d="M459.56,136.90L461.16,140.00L462.76,136.90Z" fill="#c41c32" fill-opacity="0.5" stroke="#c41c32" stroke-width="0.7"/>
<path d="M464.90,88.47L466.50,91.57L468.10,88.47Z" fill="#c41c32" fill-opacity="0.5" stroke="#c41c32" stroke-width="0.7"/>
<path d="M470.24,61.02L471.84,64.12L473.44,61.02Z" fill="#c41c32" fill-opacity="0.5" stroke="#c41c32" stroke-width="0.7"/>
<path d="M475.58,60.58L477.18,63.68L478.78,60.58Z" fill="#c41c32" fill-opacity="0.5" stroke="#c41c32" stroke-width="0.7"/>
<path d="M480.91,56.12L482.51,59.22L484.11,56.12Z" fill="#c41c32" fill-opacity="0.5" stroke="#c41c32" stroke-width="0.7"/>
<path d="M486.25,77.76L487.85,80.86L489.45,77.76Z" fill="#c41c32" fill-opacity="0.5" stroke="#c41c32" stroke-width="0.7"/>
<path d="M491.59,96.73L493.19,99.83L494.79,96.73Z" fill="#c41c32" fill-opacity="0.5" stroke="#c41c32" stroke-width="0.7"/>
<path d="M496.93,103.42L498.53,106.52L500.13,103.42Z" fill="#c41c32" fill-opacity="0.5" stroke="#c41c32" stroke-width="0.7"/>
<path d="M502.27,109.67L503.87,112.77L505.47,109.67Z" fill="#c41c32" fill-opacity="0.5" stroke="#c41c32" stroke-width="0.7"/>
<path d="M507.60,101.19L509.20,104.29L510.80,101.19Z" fill="#c41c32" fill-opacity="0.5" stroke="#c41c32" stroke-width="0.7"/>
<path d="M512.94,127.97L514.54,131.07L516.14,127.97Z" fill="#c41c32" fill-opacity="0.5" stroke="#c41c32" stroke-width="0.7"/>
<path d="M518.28,120.83L519.88,123.93L521.48,120.83Z" fill="#c41c32" fill-opacity="0.5" stroke="#c41c32" stroke-width="0.7"/>
<path d="M523.62,124.85L525.22,127.95L526.82,124.85Z" fill="#c41c32" fill-opacity="0.5" stroke="#c41c32" stroke-width="0.7"/>
<path d="M528.96,139.80L530.56,142.90L532.16,139.80Z" fill="#c41c32" fill-opacity="0.5" stroke="#c41c32" stroke-width="0.7"/>
<path d="M534.29,144.26L535.89,147.36L537.49,144.26Z" fill="#c41c32" fill-opacity="0.5" stroke="#c41c32" stroke-width="0.7"/>
<path d="M539.63,136.90L541.23,140.00L542.83,136.90Z" fill="#c41c32" fill-opacity="0.5" stroke="#c41c32" stroke-width="0.7"/>
<path d="M544.97,151.62L546.57,154.72L548.17,151.62Z" fill="#c41c32" fill-opacity="0.5" stroke="#c41c32" stroke-width="0.7"/>
<path d="M550.31,129.31L551.91,132.41L553.51,129.31Z" fill="#c41c32" fill-opacity="0.5" stroke="#c41c32" stroke-width="0.7"/>
<path d="M555.64,153.86L557.24,156.96L558.84,153.86Z" fill="#c41c32" fill-opacity="0.5" stroke="#c41c32" stroke-width="0.7"/>
<path d="M560.98,138.68L562.58,141.78L564.18,138.68Z" fill="#c41c32" fill-opacity="0.5" stroke="#c41c32" stroke-width="0.7"/>
<path d="M566.32,169.48L567.92,172.58L569.52,169.48Z" fill="#c41c32" fill-opacity="0.5" stroke="#c41c32" stroke-width="0.7"/>
<path d="M571.66,156.09L573.26,159.19L574.86,156.09Z" fill="#c41c32" fill-opacity="0.5" stroke="#c41c32" stroke-width="0.7"/>
<path d="M577.00,140.91L578.60,144.01L580.20,140.91Z" fill="#c41c32" fill-opacity="0.5" stroke="#c41c32" stroke-width="0.7"/>
<path d="M582.33,157.65L583.93,160.75L585.53,157.65Z" fill="#c41c32" fill-opacity="0.5" stroke="#c41c32" stroke-width="0.7"/>
<path d="M587.67,165.46L589.27,168.56L590.87,165.46Z" fill="#c41c32" fill-opacity="0.5" stroke="#c41c32" stroke-width="0.7"/>
<text x="720.00" y="34.60" font-size="11.5" text-anchor="middle" fill="#111">Up-Down</text>
<text x="720.00" y="45.90" font-size="7.8" font-style="italic" text-anchor="middle" fill="#111" stroke="#111" stroke-width="0.15">NRG1</text>
<rect x="646.50" y="39.50" width="149.40" height="135.00" fill="none" stroke="#333" stroke-width="1"/>
<line x1="646.50" y1="135.42" x2="795.90" y2="135.42" stroke="#111" stroke-width="1"/>
<line x1="643.50" y1="174.47" x2="646.50" y2="174.47" stroke="#333" stroke-width="1"/>
<text transform="translate(640.00,174.47) rotate(-90)" font-size="7" text-anchor="middle" fill="#666">−1.0</text>
<line x1="643.50" y1="154.83" x2="646.50" y2="154.83" stroke="#333" stroke-width="1"/>
<text transform="translate(640.00,154.83) rotate(-90)" font-size="7" text-anchor="middle" fill="#666">−0.5</text>
<line x1="643.50" y1="135.42" x2="646.50" y2="135.42" stroke="#333" stroke-width="1"/>
<text transform="translate(640.00,135.42) rotate(-90)" font-size="7" text-anchor="middle" fill="#666">0.0</text>
<line x1="643.50" y1="115.78" x2="646.50" y2="115.78" stroke="#333" stroke-width="1"/>
<text transform="translate(640.00,115.78) rotate(-90)" font-size="7" text-anchor="middle" fill="#666">0.5</text>
<line x1="643.50" y1="96.37" x2="646.50" y2="96.37" stroke="#333" stroke-width="1"/>
<text transform="translate(640.00,96.37) rotate(-90)" font-size="7" text-anchor="middle" fill="#666">1.0</text>
<line x1="643.50" y1="76.73" x2="646.50" y2="76.73" stroke="#333" stroke-width="1"/>
<text transform="translate(640.00,76.73) rotate(-90)" font-size="7" text-anchor="middle" fill="#666">1.5</text>
<line x1="643.50" y1="57.32" x2="646.50" y2="57.32" stroke="#333" stroke-width="1"/>
<text transform="translate(640.00,57.32) rotate(-90)" font-size="7" text-anchor="middle" fill="#666">2.0</text>
<line x1="652.17" y1="174.50" x2="652.17" y2="177.50" stroke="#333" stroke-width="1"/>
<text x="652.17" y="184.70" font-size="7" text-anchor="middle" fill="#666">0</text>
<line x1="678.82" y1="174.50" x2="678.82" y2="177.50" stroke="#333" stroke-width="1"/>
<text x="678.82" y="184.70" font-size="7" text-anchor="middle" fill="#666">5</text>
<line x1="705.46" y1="174.50" x2="705.46" y2="177.50" stroke="#333" stroke-width="1"/>
<text x="705.46" y="184.70" font-size="7" text-anchor="middle" fill="#666">10</text>
<line x1="732.11" y1="174.50" x2="732.11" y2="177.50" stroke="#333" stroke-width="1"/>
<text x="732.11" y="184.70" font-size="7" text-anchor="middle" fill="#666">15</text>
<line x1="758.75" y1="174.50" x2="758.75" y2="177.50" stroke="#333" stroke-width="1"/>
<text x="758.75" y="184.70" font-size="7" text-anchor="middle" fill="#666">20</text>
<line x1="785.40" y1="174.50" x2="785.40" y2="177.50" stroke="#333" stroke-width="1"/>
<text x="785.40" y="184.70" font-size="7" text-anchor="middle" fill="#666">25</text>
<text x="719.20" y="194.50" font-size="7" text-anchor="middle" fill="#666">Day</text>
<text transform="translate(629.70,101.50) rotate(-90)" font-size="8.5" text-anchor="middle" fill="#111">Log2(Fold–Change (TPM+1))</text>
<path d="M653.53,133.44L656.15,129.59M658.67,129.71L661.67,135.11M663.56,134.92L667.43,122.75M670.55,120.67L671.10,120.71M675.22,122.58L677.09,124.38M681.20,125.75L681.77,125.68M686.55,125.38L687.08,125.38M691.51,126.65L692.77,127.45M696.57,127.10L698.37,125.44M701.19,125.97L704.41,132.59M707.74,135.51L708.52,135.77M712.45,134.80L714.46,132.69M717.25,133.08L720.32,138.88M722.73,138.97L725.50,134.55M728.58,134.10L730.31,135.62M733.95,138.74L735.60,140.13M739.83,141.57L740.37,141.54M744.72,140.05L746.14,139.04M749.50,139.59L752.02,143.07M754.78,143.03L757.40,139.19M760.01,139.25L762.83,143.86M765.46,143.94L768.03,140.28M771.44,139.60L772.71,140.39M777.07,141.08L777.74,140.91M781.69,142.10L783.77,144.36M787.35,144.74L788.77,143.73" fill="none" stroke="#3d4b94" stroke-width="0.9"/>
<path d="M650.57,136.62L652.17,133.52L653.77,136.62Z" fill="#3a4585" fill-opacity="0.5" stroke="#3a4585" stroke-width="0.7"/>
<path d="M655.90,128.81L657.50,125.71L659.10,128.81Z" fill="#3a4585" fill-opacity="0.5" stroke="#3a4585" stroke-width="0.7"/>
<path d="M661.23,138.40L662.83,135.30L664.43,138.40Z" fill="#3a4585" fill-opacity="0.5" stroke="#3a4585" stroke-width="0.7"/>
<path d="M666.56,121.67L668.16,118.57L669.76,121.67Z" fill="#3a4585" fill-opacity="0.5" stroke="#3a4585" stroke-width="0.7"/>
<path d="M671.89,122.11L673.49,119.01L675.09,122.11Z" fill="#3a4585" fill-opacity="0.5" stroke="#3a4585" stroke-width="0.7"/>
<path d="M677.22,127.25L678.82,124.15L680.42,127.25Z" fill="#3a4585" fill-opacity="0.5" stroke="#3a4585" stroke-width="0.7"/>
<path d="M682.55,126.58L684.15,123.48L685.75,126.58Z" fill="#3a4585" fill-opacity="0.5" stroke="#3a4585" stroke-width="0.7"/>
<path d="M687.88,126.58L689.48,123.48L691.08,126.58Z" fill="#3a4585" fill-opacity="0.5" stroke="#3a4585" stroke-width="0.7"/>
<path d="M693.21,129.92L694.81,126.82L696.41,129.92Z" fill="#3a4585" fill-opacity="0.5" stroke="#3a4585" stroke-width="0.7"/>
<path d="M698.53,125.01L700.13,121.91L701.73,125.01Z" fill="#3a4585" fill-opacity="0.5" stroke="#3a4585" stroke-width="0.7"/>
<path d="M703.86,135.95L705.46,132.85L707.06,135.95Z" fill="#3a4585" fill-opacity="0.5" stroke="#3a4585" stroke-width="0.7"/>
<path d="M709.19,137.73L710.79,134.63L712.39,137.73Z" fill="#3a4585" fill-opacity="0.5" stroke="#3a4585" stroke-width="0.7"/>
<path d="M714.52,132.16L716.12,129.06L717.72,132.16Z" fill="#3a4585" fill-opacity="0.5" stroke="#3a4585" stroke-width="0.7"/>
<path d="M719.85,142.20L721.45,139.10L723.05,142.20Z" fill="#3a4585" fill-opacity="0.5" stroke="#3a4585" stroke-width="0.7"/>
<path d="M725.18,133.72L726.78,130.62L728.38,133.72Z" fill="#3a4585" fill-opacity="0.5" stroke="#3a4585" stroke-width="0.7"/>
<path d="M730.51,138.40L732.11,135.30L733.71,138.40Z" fill="#3a4585" fill-opacity="0.5" stroke="#3a4585" stroke-width="0.7"/>
<path d="M735.84,142.87L737.44,139.77L739.04,142.87Z" fill="#3a4585" fill-opacity="0.5" stroke="#3a4585" stroke-width="0.7"/>
<path d="M741.17,142.64L742.77,139.54L744.37,142.64Z" fill="#3a4585" fill-opacity="0.5" stroke="#3a4585" stroke-width="0.7"/>
<path d="M746.49,138.85L748.09,135.75L749.69,138.85Z" fill="#3a4585" fill-opacity="0.5" stroke="#3a4585" stroke-width="0.7"/>
<path d="M751.82,146.21L753.42,143.11L755.02,146.21Z" fill="#3a4585" fill-opacity="0.5" stroke="#3a4585" stroke-width="0.7"/>
<path d="M757.15,138.40L758.75,135.30L760.35,138.40Z" fill="#3a4585" fill-opacity="0.5" stroke="#3a4585" stroke-width="0.7"/>
<path d="M762.48,147.11L764.08,144.01L765.68,147.11Z" fill="#3a4585" fill-opacity="0.5" stroke="#3a4585" stroke-width="0.7"/>
<path d="M767.81,139.52L769.41,136.42L771.01,139.52Z" fill="#3a4585" fill-opacity="0.5" stroke="#3a4585" stroke-width="0.7"/>
<path d="M773.14,142.87L774.74,139.77L776.34,142.87Z" fill="#3a4585" fill-opacity="0.5" stroke="#3a4585" stroke-width="0.7"/>
<path d="M778.47,141.53L780.07,138.43L781.67,141.53Z" fill="#3a4585" fill-opacity="0.5" stroke="#3a4585" stroke-width="0.7"/>
<path d="M783.80,147.33L785.40,144.23L787.00,147.33Z" fill="#3a4585" fill-opacity="0.5" stroke="#3a4585" stroke-width="0.7"/>
<path d="M789.12,143.54L790.72,140.44L792.32,143.54Z" fill="#3a4585" fill-opacity="0.5" stroke="#3a4585" stroke-width="0.7"/>
<path d="M653.40,133.36L656.27,128.55M657.79,124.11L662.55,84.24M663.96,79.74L667.04,73.94M668.94,69.55L672.71,58.47M675.08,58.00L677.23,60.43M679.89,64.37L683.08,70.79M686.36,73.86L687.26,74.24M690.19,77.46L694.09,90.06M697.21,92.35L697.73,92.35M700.73,94.67L704.87,110.78M707.12,114.84L709.13,116.95M713.18,118.48L713.73,118.44M716.77,120.55L720.80,134.89M723.18,135.54L725.05,133.74M727.78,134.25L731.11,141.49M733.95,142.13L735.60,140.75M738.10,141.52L742.10,155.43M744.26,155.86L746.60,152.92M748.94,153.28L752.57,162.85M754.09,162.79L758.09,148.88M759.45,148.87L763.38,161.69M766.07,162.65L767.42,161.75M771.52,161.56L772.63,162.16M775.59,161.07L779.22,151.50M780.66,151.58L784.80,167.68M787.67,169.24L788.45,168.98" fill="none" stroke="#d42430" stroke-width="0.9"/>
<path d="M650.57,134.22L652.17,137.32L653.77,134.22Z" fill="#c41c32" fill-opacity="0.5" stroke="#c41c32" stroke-width="0.7"/>
<path d="M655.90,125.29L657.50,128.39L659.10,125.29Z" fill="#c41c32" fill-opacity="0.5" stroke="#c41c32" stroke-width="0.7"/>
<path d="M661.23,80.66L662.83,83.76L664.43,80.66Z" fill="#c41c32" fill-opacity="0.5" stroke="#c41c32" stroke-width="0.7"/>
<path d="M666.56,70.62L668.16,73.72L669.76,70.62Z" fill="#c41c32" fill-opacity="0.5" stroke="#c41c32" stroke-width="0.7"/>
<path d="M671.89,55.00L673.49,58.10L675.09,55.00Z" fill="#c41c32" fill-opacity="0.5" stroke="#c41c32" stroke-width="0.7"/>
<path d="M677.22,61.02L678.82,64.12L680.42,61.02Z" fill="#c41c32" fill-opacity="0.5" stroke="#c41c32" stroke-width="0.7"/>
<path d="M682.55,71.74L684.15,74.84L685.75,71.74Z" fill="#c41c32" fill-opacity="0.5" stroke="#c41c32" stroke-width="0.7"/>
<path d="M687.88,73.97L689.48,77.07L691.08,73.97Z" fill="#c41c32" fill-opacity="0.5" stroke="#c41c32" stroke-width="0.7"/>
<path d="M693.21,91.15L694.81,94.25L696.41,91.15Z" fill="#c41c32" fill-opacity="0.5" stroke="#c41c32" stroke-width="0.7"/>
<path d="M698.53,91.15L700.13,94.25L701.73,91.15Z" fill="#c41c32" fill-opacity="0.5" stroke="#c41c32" stroke-width="0.7"/>
<path d="M703.86,111.90L705.46,115.00L707.06,111.90Z" fill="#c41c32" fill-opacity="0.5" stroke="#c41c32" stroke-width="0.7"/>
<path d="M709.19,117.48L710.79,120.58L712.39,117.48Z" fill="#c41c32" fill-opacity="0.5" stroke="#c41c32" stroke-width="0.7"/>
<path d="M714.52,117.04L716.12,120.14L717.72,117.04Z" fill="#c41c32" fill-opacity="0.5" stroke="#c41c32" stroke-width="0.7"/>
<path d="M719.85,136.00L721.45,139.10L723.05,136.00Z" fill="#c41c32" fill-opacity="0.5" stroke="#c41c32" stroke-width="0.7"/>
<path d="M725.18,130.87L726.78,133.97L728.38,130.87Z" fill="#c41c32" fill-opacity="0.5" stroke="#c41c32" stroke-width="0.7"/>
<path d="M730.51,142.48L732.11,145.58L733.71,142.48Z" fill="#c41c32" fill-opacity="0.5" stroke="#c41c32" stroke-width="0.7"/>
<path d="M735.84,138.01L737.44,141.11L739.04,138.01Z" fill="#c41c32" fill-opacity="0.5" stroke="#c41c32" stroke-width="0.7"/>
<path d="M741.17,156.53L742.77,159.63L744.37,156.53Z" fill="#c41c32" fill-opacity="0.5" stroke="#c41c32" stroke-width="0.7"/>
<path d="M746.49,149.84L748.09,152.94L749.69,149.84Z" fill="#c41c32" fill-opacity="0.5" stroke="#c41c32" stroke-width="0.7"/>
<path d="M751.82,163.90L753.42,167.00L755.02,163.90Z" fill="#c41c32" fill-opacity="0.5" stroke="#c41c32" stroke-width="0.7"/>
<path d="M757.15,145.38L758.75,148.48L760.35,145.38Z" fill="#c41c32" fill-opacity="0.5" stroke="#c41c32" stroke-width="0.7"/>
<path d="M762.48,162.78L764.08,165.88L765.68,162.78Z" fill="#c41c32" fill-opacity="0.5" stroke="#c41c32" stroke-width="0.7"/>
<path d="M767.81,159.21L769.41,162.31L771.01,159.21Z" fill="#c41c32" fill-opacity="0.5" stroke="#c41c32" stroke-width="0.7"/>
<path d="M773.14,162.11L774.74,165.21L776.34,162.11Z" fill="#c41c32" fill-opacity="0.5" stroke="#c41c32" stroke-width="0.7"/>
<path d="M778.47,148.05L780.07,151.15L781.67,148.05Z" fill="#c41c32" fill-opacity="0.5" stroke="#c41c32" stroke-width="0.7"/>
<path d="M783.80,168.81L785.40,171.91L787.00,168.81Z" fill="#c41c32" fill-opacity="0.5" stroke="#c41c32" stroke-width="0.7"/>
<path d="M789.12,167.02L790.72,170.12L792.32,167.02Z" fill="#c41c32" fill-opacity="0.5" stroke="#c41c32" stroke-width="0.7"/>
<text x="105.40" y="217.30" font-size="11.5" text-anchor="middle" fill="#111">Down-Down</text>
<text x="108.40" y="233.60" font-size="7.8" font-style="italic" text-anchor="middle" fill="#111" stroke="#111" stroke-width="0.15">ZIC3</text>
<rect x="36.40" y="224.90" width="149.90" height="135.40" fill="none" stroke="#333" stroke-width="1"/>
<line x1="36.40" y1="242.09" x2="186.30" y2="242.09" stroke="#111" stroke-width="1"/>
<line x1="33.40" y1="242.09" x2="36.40" y2="242.09" stroke="#333" stroke-width="1"/>
<text transform="translate(29.90,242.09) rotate(-90)" font-size="7" text-anchor="middle" fill="#666">0.0</text>
<line x1="33.40" y1="269.54" x2="36.40" y2="269.54" stroke="#333" stroke-width="1"/>
<text transform="translate(29.90,269.54) rotate(-90)" font-size="7" text-anchor="middle" fill="#666">−0.5</text>
<line x1="33.40" y1="296.99" x2="36.40" y2="296.99" stroke="#333" stroke-width="1"/>
<text transform="translate(29.90,296.99) rotate(-90)" font-size="7" text-anchor="middle" fill="#666">−1.0</text>
<line x1="33.40" y1="324.44" x2="36.40" y2="324.44" stroke="#333" stroke-width="1"/>
<text transform="translate(29.90,324.44) rotate(-90)" font-size="7" text-anchor="middle" fill="#666">−1.5</text>
<line x1="33.40" y1="352.11" x2="36.40" y2="352.11" stroke="#333" stroke-width="1"/>
<text transform="translate(29.90,352.11) rotate(-90)" font-size="7" text-anchor="middle" fill="#666">−2.0</text>
<line x1="41.83" y1="360.30" x2="41.83" y2="363.30" stroke="#333" stroke-width="1"/>
<text x="41.83" y="370.50" font-size="7" text-anchor="middle" fill="#666">0</text>
<line x1="68.47" y1="360.30" x2="68.47" y2="363.30" stroke="#333" stroke-width="1"/>
<text x="68.47" y="370.50" font-size="7" text-anchor="middle" fill="#666">5</text>
<line x1="95.12" y1="360.30" x2="95.12" y2="363.30" stroke="#333" stroke-width="1"/>
<text x="95.12" y="370.50" font-size="7" text-anchor="middle" fill="#666">10</text>
<line x1="121.76" y1="360.30" x2="121.76" y2="363.30" stroke="#333" stroke-width="1"/>
<text x="121.76" y="370.50" font-size="7" text-anchor="middle" fill="#666">15</text>
<line x1="148.40" y1="360.30" x2="148.40" y2="363.30" stroke="#333" stroke-width="1"/>
<text x="148.40" y="370.50" font-size="7" text-anchor="middle" fill="#666">20</text>
<line x1="175.05" y1="360.30" x2="175.05" y2="363.30" stroke="#333" stroke-width="1"/>
<text x="175.05" y="370.50" font-size="7" text-anchor="middle" fill="#666">25</text>
<text x="109.35" y="380.30" font-size="7" text-anchor="middle" fill="#666">Day</text>
<text transform="translate(18.40,288.10) rotate(-90)" font-size="8.5" text-anchor="middle" fill="#111">Log2(Fold–Change (TPM+1))</text>
<path d="M43.08,244.14L45.90,248.75M48.85,252.50L50.79,254.45M54.52,257.43L55.78,258.22M59.85,258.22L61.11,257.43M65.45,255.48L66.17,255.26M70.31,256.13L71.96,257.51M76.08,258.29L76.85,258.03M80.12,259.45L83.47,266.91M85.26,266.83L88.98,256.40M90.82,256.31L94.08,263.13M96.18,263.15L99.38,256.74M102.10,256.32L104.12,258.43M106.86,258.03L110.02,251.82M112.40,251.70L115.13,255.92M118.81,258.23L119.38,258.31M123.75,257.27L125.10,256.37M128.47,253.07L131.04,249.41M133.54,249.57L136.62,255.37M139.78,256.21L141.04,255.42M144.46,256.11L147.03,259.77M149.59,259.64L152.55,254.44M156.01,251.59L156.79,251.33M160.50,248.65L162.96,245.35M166.54,242.35L167.58,241.83M171.31,242.55L173.46,244.98M177.32,246.02L178.10,245.76" fill="none" stroke="#3d4b94" stroke-width="0.9"/>
<path d="M40.23,243.29L41.83,240.19L43.43,243.29Z" fill="#3a4585" fill-opacity="0.5" stroke="#3a4585" stroke-width="0.7"/>
<path d="M45.56,251.99L47.16,248.89L48.76,251.99Z" fill="#3a4585" fill-opacity="0.5" stroke="#3a4585" stroke-width="0.7"/>
<path d="M50.88,257.35L52.48,254.25L54.08,257.35Z" fill="#3a4585" fill-opacity="0.5" stroke="#3a4585" stroke-width="0.7"/>
<path d="M56.21,260.70L57.81,257.60L59.41,260.70Z" fill="#3a4585" fill-opacity="0.5" stroke="#3a4585" stroke-width="0.7"/>
<path d="M61.54,257.35L63.14,254.25L64.74,257.35Z" fill="#3a4585" fill-opacity="0.5" stroke="#3a4585" stroke-width="0.7"/>
<path d="M66.87,255.79L68.47,252.69L70.07,255.79Z" fill="#3a4585" fill-opacity="0.5" stroke="#3a4585" stroke-width="0.7"/>
<path d="M72.20,260.25L73.80,257.15L75.40,260.25Z" fill="#3a4585" fill-opacity="0.5" stroke="#3a4585" stroke-width="0.7"/>
<path d="M77.53,258.47L79.13,255.37L80.73,258.47Z" fill="#3a4585" fill-opacity="0.5" stroke="#3a4585" stroke-width="0.7"/>
<path d="M82.86,270.29L84.46,267.19L86.06,270.29Z" fill="#3a4585" fill-opacity="0.5" stroke="#3a4585" stroke-width="0.7"/>
<path d="M88.19,255.34L89.79,252.24L91.39,255.34Z" fill="#3a4585" fill-opacity="0.5" stroke="#3a4585" stroke-width="0.7"/>
<path d="M93.52,266.50L95.12,263.40L96.72,266.50Z" fill="#3a4585" fill-opacity="0.5" stroke="#3a4585" stroke-width="0.7"/>
<path d="M98.84,255.79L100.44,252.69L102.04,255.79Z" fill="#3a4585" fill-opacity="0.5" stroke="#3a4585" stroke-width="0.7"/>
<path d="M104.17,261.37L105.77,258.27L107.37,261.37Z" fill="#3a4585" fill-opacity="0.5" stroke="#3a4585" stroke-width="0.7"/>
<path d="M109.50,250.88L111.10,247.78L112.70,250.88Z" fill="#3a4585" fill-opacity="0.5" stroke="#3a4585" stroke-width="0.7"/>
<path d="M114.83,259.14L116.43,256.04L118.03,259.14Z" fill="#3a4585" fill-opacity="0.5" stroke="#3a4585" stroke-width="0.7"/>
<path d="M120.16,259.81L121.76,256.71L123.36,259.81Z" fill="#3a4585" fill-opacity="0.5" stroke="#3a4585" stroke-width="0.7"/>
<path d="M125.49,256.23L127.09,253.13L128.69,256.23Z" fill="#3a4585" fill-opacity="0.5" stroke="#3a4585" stroke-width="0.7"/>
<path d="M130.82,248.65L132.42,245.55L134.02,248.65Z" fill="#3a4585" fill-opacity="0.5" stroke="#3a4585" stroke-width="0.7"/>
<path d="M136.15,258.69L137.75,255.59L139.35,258.69Z" fill="#3a4585" fill-opacity="0.5" stroke="#3a4585" stroke-width="0.7"/>
<path d="M141.48,255.34L143.08,252.24L144.68,255.34Z" fill="#3a4585" fill-opacity="0.5" stroke="#3a4585" stroke-width="0.7"/>
<path d="M146.80,262.93L148.40,259.83L150.00,262.93Z" fill="#3a4585" fill-opacity="0.5" stroke="#3a4585" stroke-width="0.7"/>
<path d="M152.13,253.56L153.73,250.46L155.33,253.56Z" fill="#3a4585" fill-opacity="0.5" stroke="#3a4585" stroke-width="0.7"/>
<path d="M157.46,251.77L159.06,248.67L160.66,251.77Z" fill="#3a4585" fill-opacity="0.5" stroke="#3a4585" stroke-width="0.7"/>
<path d="M162.79,244.63L164.39,241.53L165.99,244.63Z" fill="#3a4585" fill-opacity="0.5" stroke="#3a4585" stroke-width="0.7"/>
<path d="M168.12,241.95L169.72,238.85L171.32,241.95Z" fill="#3a4585" fill-opacity="0.5" stroke="#3a4585" stroke-width="0.7"/>
<path d="M173.45,247.98L175.05,244.88L176.65,247.98Z" fill="#3a4585" fill-opacity="0.5" stroke="#3a4585" stroke-width="0.7"/>
<path d="M178.78,246.19L180.38,243.09L181.98,246.19Z" fill="#3a4585" fill-opacity="0.5" stroke="#3a4585" stroke-width="0.7"/>
<path d="M42.77,244.30L46.21,252.38M47.57,256.95L52.07,282.35M53.07,287.04L57.23,303.59M58.59,308.18L62.37,319.26M65.52,321.24L66.09,321.16M70.39,322.31L71.88,323.44M75.08,326.91L77.85,331.33M79.90,335.63L83.68,346.71M84.97,346.64L89.28,326.78M90.19,326.80L94.71,353.31M95.66,353.34L99.90,335.03M101.04,335.02L105.18,351.12M106.29,351.10L110.58,331.69M111.68,331.67L115.86,348.66M116.91,348.64L121.28,327.23M122.24,327.23L126.61,348.86M127.47,348.84L132.04,320.56M133.37,320.39L136.79,328.26M139.10,328.48L141.72,324.63M143.60,324.99L147.88,344.18M148.84,344.17L153.30,319.88M154.28,319.86L158.52,338.16M159.98,338.28L163.48,329.78M166.78,327.36L167.33,327.31M170.39,324.81L174.38,311.12M176.43,310.78L179.00,314.44" fill="none" stroke="#d42430" stroke-width="0.9"/>
<path d="M40.23,240.89L41.83,243.99L43.43,240.89Z" fill="#c41c32" fill-opacity="0.5" stroke="#c41c32" stroke-width="0.7"/>
<path d="M45.56,253.39L47.16,256.49L48.76,253.39Z" fill="#c41c32" fill-opacity="0.5" stroke="#c41c32" stroke-width="0.7"/>
<path d="M50.88,283.51L52.48,286.61L54.08,283.51Z" fill="#c41c32" fill-opacity="0.5" stroke="#c41c32" stroke-width="0.7"/>
<path d="M56.21,304.71L57.81,307.81L59.41,304.71Z" fill="#c41c32" fill-opacity="0.5" stroke="#c41c32" stroke-width="0.7"/>
<path d="M61.54,320.33L63.14,323.43L64.74,320.33Z" fill="#c41c32" fill-opacity="0.5" stroke="#c41c32" stroke-width="0.7"/>
<path d="M66.87,319.66L68.47,322.76L70.07,319.66Z" fill="#c41c32" fill-opacity="0.5" stroke="#c41c32" stroke-width="0.7"/>
<path d="M72.20,323.68L73.80,326.78L75.40,323.68Z" fill="#c41c32" fill-opacity="0.5" stroke="#c41c32" stroke-width="0.7"/>
<path d="M77.53,332.16L79.13,335.26L80.73,332.16Z" fill="#c41c32" fill-opacity="0.5" stroke="#c41c32" stroke-width="0.7"/>
<path d="M82.86,347.78L84.46,350.88L86.06,347.78Z" fill="#c41c32" fill-opacity="0.5" stroke="#c41c32" stroke-width="0.7"/>
<path d="M88.19,323.24L89.79,326.34L91.39,323.24Z" fill="#c41c32" fill-opacity="0.5" stroke="#c41c32" stroke-width="0.7"/>
<path d="M93.52,354.48L95.12,357.58L96.72,354.48Z" fill="#c41c32" fill-opacity="0.5" stroke="#c41c32" stroke-width="0.7"/>
<path d="M98.84,331.49L100.44,334.59L102.04,331.49Z" fill="#c41c32" fill-opacity="0.5" stroke="#c41c32" stroke-width="0.7"/>
<path d="M104.17,352.24L105.77,355.34L107.37,352.24Z" fill="#c41c32" fill-opacity="0.5" stroke="#c41c32" stroke-width="0.7"/>
<path d="M109.50,328.14L111.10,331.24L112.70,328.14Z" fill="#c41c32" fill-opacity="0.5" stroke="#c41c32" stroke-width="0.7"/>
<path d="M114.83,349.79L116.43,352.89L118.03,349.79Z" fill="#c41c32" fill-opacity="0.5" stroke="#c41c32" stroke-width="0.7"/>
<path d="M120.16,323.68L121.76,326.78L123.36,323.68Z" fill="#c41c32" fill-opacity="0.5" stroke="#c41c32" stroke-width="0.7"/>
<path d="M125.49,350.01L127.09,353.11L128.69,350.01Z" fill="#c41c32" fill-opacity="0.5" stroke="#c41c32" stroke-width="0.7"/>
<path d="M130.82,316.99L132.42,320.09L134.02,316.99Z" fill="#c41c32" fill-opacity="0.5" stroke="#c41c32" stroke-width="0.7"/>
<path d="M136.15,329.26L137.75,332.36L139.35,329.26Z" fill="#c41c32" fill-opacity="0.5" stroke="#c41c32" stroke-width="0.7"/>
<path d="M141.48,321.45L143.08,324.55L144.68,321.45Z" fill="#c41c32" fill-opacity="0.5" stroke="#c41c32" stroke-width="0.7"/>
<path d="M146.80,345.33L148.40,348.43L150.00,345.33Z" fill="#c41c32" fill-opacity="0.5" stroke="#c41c32" stroke-width="0.7"/>
<path d="M152.13,316.32L153.73,319.42L155.33,316.32Z" fill="#c41c32" fill-opacity="0.5" stroke="#c41c32" stroke-width="0.7"/>
<path d="M157.46,339.30L159.06,342.40L160.66,339.30Z" fill="#c41c32" fill-opacity="0.5" stroke="#c41c32" stroke-width="0.7"/>
<path d="M162.79,326.36L164.39,329.46L165.99,326.36Z" fill="#c41c32" fill-opacity="0.5" stroke="#c41c32" stroke-width="0.7"/>
<path d="M168.12,325.91L169.72,329.01L171.32,325.91Z" fill="#c41c32" fill-opacity="0.5" stroke="#c41c32" stroke-width="0.7"/>
<path d="M173.45,307.61L175.05,310.71L176.65,307.61Z" fill="#c41c32" fill-opacity="0.5" stroke="#c41c32" stroke-width="0.7"/>
<path d="M178.78,315.20L180.38,318.30L181.98,315.20Z" fill="#c41c32" fill-opacity="0.5" stroke="#c41c32" stroke-width="0.7"/>
<text x="313.00" y="217.00" font-size="11.5" text-anchor="middle" fill="#111">EE-Down</text>
<text x="311.00" y="231.70" font-size="7.8" font-style="italic" text-anchor="middle" fill="#111" stroke="#111" stroke-width="0.15">ZNF385D</text>
<rect x="235.60" y="223.40" width="150.00" height="134.50" fill="none" stroke="#333" stroke-width="1"/>
<line x1="235.60" y1="264.32" x2="385.60" y2="264.32" stroke="#111" stroke-width="1"/>
<line x1="232.60" y1="243.56" x2="235.60" y2="243.56" stroke="#333" stroke-width="1"/>
<text transform="translate(229.10,243.56) rotate(-90)" font-size="7" text-anchor="middle" fill="#666">0.5</text>
<line x1="232.60" y1="264.32" x2="235.60" y2="264.32" stroke="#333" stroke-width="1"/>
<text transform="translate(229.10,264.32) rotate(-90)" font-size="7" text-anchor="middle" fill="#666">0.0</text>
<line x1="232.60" y1="285.52" x2="235.60" y2="285.52" stroke="#333" stroke-width="1"/>
<text transform="translate(229.10,285.52) rotate(-90)" font-size="7" text-anchor="middle" fill="#666">−0.5</text>
<line x1="232.60" y1="306.94" x2="235.60" y2="306.94" stroke="#333" stroke-width="1"/>
<text transform="translate(229.10,306.94) rotate(-90)" font-size="7" text-anchor="middle" fill="#666">−1.0</text>
<line x1="232.60" y1="328.36" x2="235.60" y2="328.36" stroke="#333" stroke-width="1"/>
<text transform="translate(229.10,328.36) rotate(-90)" font-size="7" text-anchor="middle" fill="#666">−1.5</text>
<line x1="232.60" y1="349.34" x2="235.60" y2="349.34" stroke="#333" stroke-width="1"/>
<text transform="translate(229.10,349.34) rotate(-90)" font-size="7" text-anchor="middle" fill="#666">−2.0</text>
<line x1="241.16" y1="357.90" x2="241.16" y2="360.90" stroke="#333" stroke-width="1"/>
<text x="241.16" y="368.10" font-size="7" text-anchor="middle" fill="#666">0</text>
<line x1="267.85" y1="357.90" x2="267.85" y2="360.90" stroke="#333" stroke-width="1"/>
<text x="267.85" y="368.10" font-size="7" text-anchor="middle" fill="#666">5</text>
<line x1="294.54" y1="357.90" x2="294.54" y2="360.90" stroke="#333" stroke-width="1"/>
<text x="294.54" y="368.10" font-size="7" text-anchor="middle" fill="#666">10</text>
<line x1="321.22" y1="357.90" x2="321.22" y2="360.90" stroke="#333" stroke-width="1"/>
<text x="321.22" y="368.10" font-size="7" text-anchor="middle" fill="#666">15</text>
<line x1="347.91" y1="357.90" x2="347.91" y2="360.90" stroke="#333" stroke-width="1"/>
<text x="347.91" y="368.10" font-size="7" text-anchor="middle" fill="#666">20</text>
<line x1="374.60" y1="357.90" x2="374.60" y2="360.90" stroke="#333" stroke-width="1"/>
<text x="374.60" y="368.10" font-size="7" text-anchor="middle" fill="#666">25</text>
<text x="308.60" y="377.90" font-size="7" text-anchor="middle" fill="#666">Day</text>
<text transform="translate(216.60,288.05) rotate(-90)" font-size="8.5" text-anchor="middle" fill="#111">Log2(Fold–Change (TPM+1))</text>
<path d="M242.78,262.55L244.87,260.28M247.04,260.85L251.29,278.94M252.31,278.92L256.69,257.52M259.32,256.24L260.36,256.77M263.14,260.16L267.22,275.17M268.85,275.30L272.18,268.06M274.84,264.14L276.86,262.03M280.77,261.15L281.61,261.46M285.42,264.13L287.64,266.73M290.79,266.76L292.94,264.33M296.19,264.27L298.21,266.38M301.57,269.81L303.52,271.77M307.36,272.39L308.40,271.86M312.47,272.23L313.97,273.36M317.73,276.34L319.38,277.73M323.10,280.76L324.68,282.01M328.26,281.81L330.21,279.85M334.15,279.00L334.99,279.32M338.90,281.89L340.92,284.01M344.42,284.20L346.07,282.82M350.28,280.88L350.88,280.78M355.60,279.89L356.24,279.76M359.97,277.30L362.55,273.64M366.32,271.48L366.87,271.43M369.74,273.59L374.13,295.21M375.27,295.26L379.27,281.57" fill="none" stroke="#3d4b94" stroke-width="0.9"/>
<path d="M239.56,265.52L241.16,262.42L242.76,265.52Z" fill="#3a4585" fill-opacity="0.5" stroke="#3a4585" stroke-width="0.7"/>
<path d="M244.90,259.71L246.50,256.61L248.10,259.71Z" fill="#3a4585" fill-opacity="0.5" stroke="#3a4585" stroke-width="0.7"/>
<path d="M250.23,282.48L251.83,279.38L253.43,282.48Z" fill="#3a4585" fill-opacity="0.5" stroke="#3a4585" stroke-width="0.7"/>
<path d="M255.57,256.37L257.17,253.27L258.77,256.37Z" fill="#3a4585" fill-opacity="0.5" stroke="#3a4585" stroke-width="0.7"/>
<path d="M260.91,259.05L262.51,255.95L264.11,259.05Z" fill="#3a4585" fill-opacity="0.5" stroke="#3a4585" stroke-width="0.7"/>
<path d="M266.25,278.68L267.85,275.58L269.45,278.68Z" fill="#3a4585" fill-opacity="0.5" stroke="#3a4585" stroke-width="0.7"/>
<path d="M271.58,267.08L273.18,263.98L274.78,267.08Z" fill="#3a4585" fill-opacity="0.5" stroke="#3a4585" stroke-width="0.7"/>
<path d="M276.92,261.50L278.52,258.40L280.12,261.50Z" fill="#3a4585" fill-opacity="0.5" stroke="#3a4585" stroke-width="0.7"/>
<path d="M282.26,263.51L283.86,260.41L285.46,263.51Z" fill="#3a4585" fill-opacity="0.5" stroke="#3a4585" stroke-width="0.7"/>
<path d="M287.60,269.76L289.20,266.66L290.80,269.76Z" fill="#3a4585" fill-opacity="0.5" stroke="#3a4585" stroke-width="0.7"/>
<path d="M292.94,263.73L294.54,260.63L296.14,263.73Z" fill="#3a4585" fill-opacity="0.5" stroke="#3a4585" stroke-width="0.7"/>
<path d="M298.27,269.31L299.87,266.21L301.47,269.31Z" fill="#3a4585" fill-opacity="0.5" stroke="#3a4585" stroke-width="0.7"/>
<path d="M303.61,274.67L305.21,271.57L306.81,274.67Z" fill="#3a4585" fill-opacity="0.5" stroke="#3a4585" stroke-width="0.7"/>
<path d="M308.95,271.99L310.55,268.89L312.15,271.99Z" fill="#3a4585" fill-opacity="0.5" stroke="#3a4585" stroke-width="0.7"/>
<path d="M314.29,276.00L315.89,272.90L317.49,276.00Z" fill="#3a4585" fill-opacity="0.5" stroke="#3a4585" stroke-width="0.7"/>
<path d="M319.62,280.47L321.22,277.37L322.82,280.47Z" fill="#3a4585" fill-opacity="0.5" stroke="#3a4585" stroke-width="0.7"/>
<path d="M324.96,284.71L326.56,281.61L328.16,284.71Z" fill="#3a4585" fill-opacity="0.5" stroke="#3a4585" stroke-width="0.7"/>
<path d="M330.30,279.35L331.90,276.25L333.50,279.35Z" fill="#3a4585" fill-opacity="0.5" stroke="#3a4585" stroke-width="0.7"/>
<path d="M335.64,281.36L337.24,278.26L338.84,281.36Z" fill="#3a4585" fill-opacity="0.5" stroke="#3a4585" stroke-width="0.7"/>
<path d="M340.98,286.94L342.58,283.84L344.18,286.94Z" fill="#3a4585" fill-opacity="0.5" stroke="#3a4585" stroke-width="0.7"/>
<path d="M346.31,282.48L347.91,279.38L349.51,282.48Z" fill="#3a4585" fill-opacity="0.5" stroke="#3a4585" stroke-width="0.7"/>
<path d="M351.65,281.58L353.25,278.48L354.85,281.58Z" fill="#3a4585" fill-opacity="0.5" stroke="#3a4585" stroke-width="0.7"/>
<path d="M356.99,280.47L358.59,277.37L360.19,280.47Z" fill="#3a4585" fill-opacity="0.5" stroke="#3a4585" stroke-width="0.7"/>
<path d="M362.33,272.88L363.93,269.78L365.53,272.88Z" fill="#3a4585" fill-opacity="0.5" stroke="#3a4585" stroke-width="0.7"/>
<path d="M367.66,272.43L369.26,269.33L370.86,272.43Z" fill="#3a4585" fill-opacity="0.5" stroke="#3a4585" stroke-width="0.7"/>
<path d="M373.00,298.77L374.60,295.67L376.20,298.77Z" fill="#3a4585" fill-opacity="0.5" stroke="#3a4585" stroke-width="0.7"/>
<path d="M378.34,280.47L379.94,277.37L381.54,280.47Z" fill="#3a4585" fill-opacity="0.5" stroke="#3a4585" stroke-width="0.7"/>
<path d="M242.00,266.56L245.66,276.35M246.82,276.22L251.51,241.92M252.45,241.87L256.55,257.31M258.21,257.47L261.47,250.64M263.18,250.78L267.17,264.47M268.21,269.14L272.82,298.77M273.72,298.80L277.98,280.27M278.83,280.31L283.55,316.39M285.42,320.59L287.64,323.19M291.00,323.43L292.73,321.91M295.35,322.58L299.06,332.80M300.93,337.21L304.16,343.83M306.04,343.74L309.72,333.74M311.44,333.71L315.00,342.65M317.12,346.93L319.99,351.74M323.07,352.26L324.72,350.88M327.45,347.11L331.01,338.18M334.29,335.75L334.85,335.70M339.64,335.50L340.18,335.50M344.98,335.50L345.51,335.50M349.27,333.52L351.90,329.67M354.18,329.90L357.66,338.20M360.25,338.68L362.27,336.57M364.86,332.62L368.34,324.33M370.18,324.33L373.69,332.84M376.98,334.76L377.56,334.68" fill="none" stroke="#d42430" stroke-width="0.9"/>
<path d="M239.56,263.12L241.16,266.22L242.76,263.12Z" fill="#c41c32" fill-opacity="0.5" stroke="#c41c32" stroke-width="0.7"/>
<path d="M244.90,277.40L246.50,280.50L248.10,277.40Z" fill="#c41c32" fill-opacity="0.5" stroke="#c41c32" stroke-width="0.7"/>
<path d="M250.23,238.35L251.83,241.45L253.43,238.35Z" fill="#c41c32" fill-opacity="0.5" stroke="#c41c32" stroke-width="0.7"/>
<path d="M255.57,258.43L257.17,261.53L258.77,258.43Z" fill="#c41c32" fill-opacity="0.5" stroke="#c41c32" stroke-width="0.7"/>
<path d="M260.91,247.27L262.51,250.37L264.11,247.27Z" fill="#c41c32" fill-opacity="0.5" stroke="#c41c32" stroke-width="0.7"/>
<path d="M266.25,265.57L267.85,268.67L269.45,265.57Z" fill="#c41c32" fill-opacity="0.5" stroke="#c41c32" stroke-width="0.7"/>
<path d="M271.58,299.94L273.18,303.04L274.78,299.94Z" fill="#c41c32" fill-opacity="0.5" stroke="#c41c32" stroke-width="0.7"/>
<path d="M276.92,276.73L278.52,279.83L280.12,276.73Z" fill="#c41c32" fill-opacity="0.5" stroke="#c41c32" stroke-width="0.7"/>
<path d="M282.26,317.57L283.86,320.67L285.46,317.57Z" fill="#c41c32" fill-opacity="0.5" stroke="#c41c32" stroke-width="0.7"/>
<path d="M287.60,323.81L289.20,326.91L290.80,323.81Z" fill="#c41c32" fill-opacity="0.5" stroke="#c41c32" stroke-width="0.7"/>
<path d="M292.94,319.13L294.54,322.23L296.14,319.13Z" fill="#c41c32" fill-opacity="0.5" stroke="#c41c32" stroke-width="0.7"/>
<path d="M298.27,333.86L299.87,336.96L301.47,333.86Z" fill="#c41c32" fill-opacity="0.5" stroke="#c41c32" stroke-width="0.7"/>
<path d="M303.61,344.79L305.21,347.89L306.81,344.79Z" fill="#c41c32" fill-opacity="0.5" stroke="#c41c32" stroke-width="0.7"/>
<path d="M308.95,330.29L310.55,333.39L312.15,330.29Z" fill="#c41c32" fill-opacity="0.5" stroke="#c41c32" stroke-width="0.7"/>
<path d="M314.29,343.67L315.89,346.77L317.49,343.67Z" fill="#c41c32" fill-opacity="0.5" stroke="#c41c32" stroke-width="0.7"/>
<path d="M319.62,352.60L321.22,355.70L322.82,352.60Z" fill="#c41c32" fill-opacity="0.5" stroke="#c41c32" stroke-width="0.7"/>
<path d="M324.96,348.14L326.56,351.24L328.16,348.14Z" fill="#c41c32" fill-opacity="0.5" stroke="#c41c32" stroke-width="0.7"/>
<path d="M330.30,334.75L331.90,337.85L333.50,334.75Z" fill="#c41c32" fill-opacity="0.5" stroke="#c41c32" stroke-width="0.7"/>
<path d="M335.64,334.30L337.24,337.40L338.84,334.30Z" fill="#c41c32" fill-opacity="0.5" stroke="#c41c32" stroke-width="0.7"/>
<path d="M340.98,334.30L342.58,337.40L344.18,334.30Z" fill="#c41c32" fill-opacity="0.5" stroke="#c41c32" stroke-width="0.7"/>
<path d="M346.31,334.30L347.91,337.40L349.51,334.30Z" fill="#c41c32" fill-opacity="0.5" stroke="#c41c32" stroke-width="0.7"/>
<path d="M351.65,326.49L353.25,329.59L354.85,326.49Z" fill="#c41c32" fill-opacity="0.5" stroke="#c41c32" stroke-width="0.7"/>
<path d="M356.99,339.21L358.59,342.31L360.19,339.21Z" fill="#c41c32" fill-opacity="0.5" stroke="#c41c32" stroke-width="0.7"/>
<path d="M362.33,333.63L363.93,336.73L365.53,333.63Z" fill="#c41c32" fill-opacity="0.5" stroke="#c41c32" stroke-width="0.7"/>
<path d="M367.66,320.91L369.26,324.01L370.86,320.91Z" fill="#c41c32" fill-opacity="0.5" stroke="#c41c32" stroke-width="0.7"/>
<path d="M373.00,333.86L374.60,336.96L376.20,333.86Z" fill="#c41c32" fill-opacity="0.5" stroke="#c41c32" stroke-width="0.7"/>
<path d="M378.34,333.19L379.94,336.29L381.54,333.19Z" fill="#c41c32" fill-opacity="0.5" stroke="#c41c32" stroke-width="0.7"/>
<text x="523.50" y="217.00" font-size="11.5" text-anchor="middle" fill="#111">Down-EE</text>
<text x="523.00" y="231.30" font-size="7.8" font-style="italic" text-anchor="middle" fill="#111" stroke="#111" stroke-width="0.15">CDT1</text>
<rect x="446.20" y="223.20" width="149.40" height="134.70" fill="none" stroke="#333" stroke-width="1"/>
<line x1="446.20" y1="252.27" x2="595.60" y2="252.27" stroke="#111" stroke-width="1"/>
<line x1="443.20" y1="231.29" x2="446.20" y2="231.29" stroke="#333" stroke-width="1"/>
<text transform="translate(439.70,231.29) rotate(-90)" font-size="7" text-anchor="middle" fill="#666">0.5</text>
<line x1="443.20" y1="252.27" x2="446.20" y2="252.27" stroke="#333" stroke-width="1"/>
<text transform="translate(439.70,252.27) rotate(-90)" font-size="7" text-anchor="middle" fill="#666">0.0</text>
<line x1="443.20" y1="273.02" x2="446.20" y2="273.02" stroke="#333" stroke-width="1"/>
<text transform="translate(439.70,273.02) rotate(-90)" font-size="7" text-anchor="middle" fill="#666">−0.5</text>
<line x1="443.20" y1="293.55" x2="446.20" y2="293.55" stroke="#333" stroke-width="1"/>
<text transform="translate(439.70,293.55) rotate(-90)" font-size="7" text-anchor="middle" fill="#666">−1.0</text>
<line x1="443.20" y1="314.75" x2="446.20" y2="314.75" stroke="#333" stroke-width="1"/>
<text transform="translate(439.70,314.75) rotate(-90)" font-size="7" text-anchor="middle" fill="#666">−1.5</text>
<line x1="443.20" y1="335.95" x2="446.20" y2="335.95" stroke="#333" stroke-width="1"/>
<text transform="translate(439.70,335.95) rotate(-90)" font-size="7" text-anchor="middle" fill="#666">−2.0</text>
<line x1="443.20" y1="356.48" x2="446.20" y2="356.48" stroke="#333" stroke-width="1"/>
<text transform="translate(439.70,356.48) rotate(-90)" font-size="7" text-anchor="middle" fill="#666">−2.5</text>
<line x1="451.60" y1="357.90" x2="451.60" y2="360.90" stroke="#333" stroke-width="1"/>
<text x="451.60" y="368.10" font-size="7" text-anchor="middle" fill="#666">0</text>
<line x1="478.29" y1="357.90" x2="478.29" y2="360.90" stroke="#333" stroke-width="1"/>
<text x="478.29" y="368.10" font-size="7" text-anchor="middle" fill="#666">5</text>
<line x1="504.98" y1="357.90" x2="504.98" y2="360.90" stroke="#333" stroke-width="1"/>
<text x="504.98" y="368.10" font-size="7" text-anchor="middle" fill="#666">10</text>
<line x1="531.67" y1="357.90" x2="531.67" y2="360.90" stroke="#333" stroke-width="1"/>
<text x="531.67" y="368.10" font-size="7" text-anchor="middle" fill="#666">15</text>
<line x1="558.36" y1="357.90" x2="558.36" y2="360.90" stroke="#333" stroke-width="1"/>
<text x="558.36" y="368.10" font-size="7" text-anchor="middle" fill="#666">20</text>
<line x1="585.05" y1="357.90" x2="585.05" y2="360.90" stroke="#333" stroke-width="1"/>
<text x="585.05" y="368.10" font-size="7" text-anchor="middle" fill="#666">25</text>
<text x="518.90" y="377.90" font-size="7" text-anchor="middle" fill="#666">Day</text>
<text transform="translate(426.80,286.65) rotate(-90)" font-size="8.5" text-anchor="middle" fill="#111">Log2(Fold–Change (TPM+1))</text>
<path d="M453.75,251.19L454.80,250.66M457.93,251.78L461.29,259.23M463.21,263.63L466.69,271.92M468.30,271.84L472.27,258.58M474.26,258.30L476.99,262.52M479.48,262.45L482.44,257.25M484.43,257.43L488.17,268.08M489.54,272.67L493.73,289.66M494.89,289.66L499.06,273.12M501.08,268.87L503.54,265.57M506.68,265.35L508.63,267.30M512.16,267.46L513.82,266.08M516.87,266.61L519.79,271.62M521.40,271.32L525.93,244.59M527.21,244.46L530.79,253.60M532.69,253.66L535.99,246.63M538.24,246.52L541.11,251.32M542.75,255.75L547.28,282.26M548.52,282.38L552.18,272.59M553.87,268.10L557.51,258.53M560.13,257.91L561.93,259.57M565.36,259.46L567.38,257.35M569.76,257.90L573.65,270.28M575.08,270.28L579.01,257.46M580.47,252.89L584.29,241.38M585.54,241.45L589.89,262.19" fill="none" stroke="#3d4b94" stroke-width="0.9"/>
<path d="M450.00,253.47L451.60,250.37L453.20,253.47Z" fill="#3a4585" fill-opacity="0.5" stroke="#3a4585" stroke-width="0.7"/>
<path d="M455.34,250.79L456.94,247.69L458.54,250.79Z" fill="#3a4585" fill-opacity="0.5" stroke="#3a4585" stroke-width="0.7"/>
<path d="M460.68,262.62L462.28,259.52L463.88,262.62Z" fill="#3a4585" fill-opacity="0.5" stroke="#3a4585" stroke-width="0.7"/>
<path d="M466.02,275.34L467.62,272.24L469.22,275.34Z" fill="#3a4585" fill-opacity="0.5" stroke="#3a4585" stroke-width="0.7"/>
<path d="M471.36,257.48L472.96,254.38L474.56,257.48Z" fill="#3a4585" fill-opacity="0.5" stroke="#3a4585" stroke-width="0.7"/>
<path d="M476.69,265.74L478.29,262.64L479.89,265.74Z" fill="#3a4585" fill-opacity="0.5" stroke="#3a4585" stroke-width="0.7"/>
<path d="M482.03,256.37L483.63,253.27L485.23,256.37Z" fill="#3a4585" fill-opacity="0.5" stroke="#3a4585" stroke-width="0.7"/>
<path d="M487.37,271.54L488.97,268.44L490.57,271.54Z" fill="#3a4585" fill-opacity="0.5" stroke="#3a4585" stroke-width="0.7"/>
<path d="M492.71,293.19L494.31,290.09L495.91,293.19Z" fill="#3a4585" fill-opacity="0.5" stroke="#3a4585" stroke-width="0.7"/>
<path d="M498.04,271.99L499.64,268.89L501.24,271.99Z" fill="#3a4585" fill-opacity="0.5" stroke="#3a4585" stroke-width="0.7"/>
<path d="M503.38,264.85L504.98,261.75L506.58,264.85Z" fill="#3a4585" fill-opacity="0.5" stroke="#3a4585" stroke-width="0.7"/>
<path d="M508.72,270.20L510.32,267.10L511.92,270.20Z" fill="#3a4585" fill-opacity="0.5" stroke="#3a4585" stroke-width="0.7"/>
<path d="M514.06,265.74L515.66,262.64L517.26,265.74Z" fill="#3a4585" fill-opacity="0.5" stroke="#3a4585" stroke-width="0.7"/>
<path d="M519.40,274.89L521.00,271.79L522.60,274.89Z" fill="#3a4585" fill-opacity="0.5" stroke="#3a4585" stroke-width="0.7"/>
<path d="M524.73,243.42L526.33,240.32L527.93,243.42Z" fill="#3a4585" fill-opacity="0.5" stroke="#3a4585" stroke-width="0.7"/>
<path d="M530.07,257.04L531.67,253.94L533.27,257.04Z" fill="#3a4585" fill-opacity="0.5" stroke="#3a4585" stroke-width="0.7"/>
<path d="M535.41,245.66L537.01,242.56L538.61,245.66Z" fill="#3a4585" fill-opacity="0.5" stroke="#3a4585" stroke-width="0.7"/>
<path d="M540.75,254.58L542.35,251.48L543.95,254.58Z" fill="#3a4585" fill-opacity="0.5" stroke="#3a4585" stroke-width="0.7"/>
<path d="M546.08,285.82L547.68,282.72L549.28,285.82Z" fill="#3a4585" fill-opacity="0.5" stroke="#3a4585" stroke-width="0.7"/>
<path d="M551.42,271.54L553.02,268.44L554.62,271.54Z" fill="#3a4585" fill-opacity="0.5" stroke="#3a4585" stroke-width="0.7"/>
<path d="M556.76,257.48L558.36,254.38L559.96,257.48Z" fill="#3a4585" fill-opacity="0.5" stroke="#3a4585" stroke-width="0.7"/>
<path d="M562.10,262.39L563.70,259.29L565.30,262.39Z" fill="#3a4585" fill-opacity="0.5" stroke="#3a4585" stroke-width="0.7"/>
<path d="M567.44,256.81L569.04,253.71L570.64,256.81Z" fill="#3a4585" fill-opacity="0.5" stroke="#3a4585" stroke-width="0.7"/>
<path d="M572.77,273.77L574.37,270.67L575.97,273.77Z" fill="#3a4585" fill-opacity="0.5" stroke="#3a4585" stroke-width="0.7"/>
<path d="M578.11,256.37L579.71,253.27L581.31,256.37Z" fill="#3a4585" fill-opacity="0.5" stroke="#3a4585" stroke-width="0.7"/>
<path d="M583.45,240.30L585.05,237.20L586.65,240.30Z" fill="#3a4585" fill-opacity="0.5" stroke="#3a4585" stroke-width="0.7"/>
<path d="M588.79,265.74L590.39,262.64L591.99,265.74Z" fill="#3a4585" fill-opacity="0.5" stroke="#3a4585" stroke-width="0.7"/>
<path d="M452.67,254.41L455.87,260.83M457.10,265.37L462.13,343.60M463.69,347.93L466.21,351.41M469.98,352.96L470.59,352.86M473.36,350.10L477.88,324.03M479.14,319.42L482.78,309.85M485.13,305.73L487.47,302.79M491.35,300.61L491.92,300.54M496.41,301.39L497.54,302.00M500.12,300.79L504.50,279.39M507.33,277.53L507.97,277.66M512.46,279.23L513.51,279.75M516.39,278.54L520.27,266.38M522.65,262.36L524.67,260.25M527.42,260.65L530.58,266.86M533.23,270.83L535.45,273.43M537.48,272.90L541.88,250.83M543.14,250.74L546.89,261.38M549.53,262.11L551.18,260.72M555.40,258.89L555.98,258.81M560.09,260.18L561.97,261.98M565.73,262.37L567.00,261.57M570.29,262.35L573.12,266.96M576.59,269.93L577.50,270.31M580.16,268.88L584.60,245.25M585.69,245.21L589.75,259.99" fill="none" stroke="#d42430" stroke-width="0.9"/>
<path d="M450.00,251.07L451.60,254.17L453.20,251.07Z" fill="#c41c32" fill-opacity="0.5" stroke="#c41c32" stroke-width="0.7"/>
<path d="M455.34,261.78L456.94,264.88L458.54,261.78Z" fill="#c41c32" fill-opacity="0.5" stroke="#c41c32" stroke-width="0.7"/>
<path d="M460.68,344.79L462.28,347.89L463.88,344.79Z" fill="#c41c32" fill-opacity="0.5" stroke="#c41c32" stroke-width="0.7"/>
<path d="M466.02,352.15L467.62,355.25L469.22,352.15Z" fill="#c41c32" fill-opacity="0.5" stroke="#c41c32" stroke-width="0.7"/>
<path d="M471.36,351.26L472.96,354.36L474.56,351.26Z" fill="#c41c32" fill-opacity="0.5" stroke="#c41c32" stroke-width="0.7"/>
<path d="M476.69,320.47L478.29,323.57L479.89,320.47Z" fill="#c41c32" fill-opacity="0.5" stroke="#c41c32" stroke-width="0.7"/>
<path d="M482.03,306.41L483.63,309.51L485.23,306.41Z" fill="#c41c32" fill-opacity="0.5" stroke="#c41c32" stroke-width="0.7"/>
<path d="M487.37,299.71L488.97,302.81L490.57,299.71Z" fill="#c41c32" fill-opacity="0.5" stroke="#c41c32" stroke-width="0.7"/>
<path d="M492.71,299.04L494.31,302.14L495.91,299.04Z" fill="#c41c32" fill-opacity="0.5" stroke="#c41c32" stroke-width="0.7"/>
<path d="M498.04,301.95L499.64,305.05L501.24,301.95Z" fill="#c41c32" fill-opacity="0.5" stroke="#c41c32" stroke-width="0.7"/>
<path d="M503.38,275.84L504.98,278.94L506.58,275.84Z" fill="#c41c32" fill-opacity="0.5" stroke="#c41c32" stroke-width="0.7"/>
<path d="M508.72,276.95L510.32,280.05L511.92,276.95Z" fill="#c41c32" fill-opacity="0.5" stroke="#c41c32" stroke-width="0.7"/>
<path d="M514.06,279.63L515.66,282.73L517.26,279.63Z" fill="#c41c32" fill-opacity="0.5" stroke="#c41c32" stroke-width="0.7"/>
<path d="M519.40,262.89L521.00,265.99L522.60,262.89Z" fill="#c41c32" fill-opacity="0.5" stroke="#c41c32" stroke-width="0.7"/>
<path d="M524.73,257.31L526.33,260.41L527.93,257.31Z" fill="#c41c32" fill-opacity="0.5" stroke="#c41c32" stroke-width="0.7"/>
<path d="M530.07,267.80L531.67,270.90L533.27,267.80Z" fill="#c41c32" fill-opacity="0.5" stroke="#c41c32" stroke-width="0.7"/>
<path d="M535.41,274.05L537.01,277.15L538.61,274.05Z" fill="#c41c32" fill-opacity="0.5" stroke="#c41c32" stroke-width="0.7"/>
<path d="M540.75,247.27L542.35,250.37L543.95,247.27Z" fill="#c41c32" fill-opacity="0.5" stroke="#c41c32" stroke-width="0.7"/>
<path d="M546.08,262.45L547.68,265.55L549.28,262.45Z" fill="#c41c32" fill-opacity="0.5" stroke="#c41c32" stroke-width="0.7"/>
<path d="M551.42,257.98L553.02,261.08L554.62,257.98Z" fill="#c41c32" fill-opacity="0.5" stroke="#c41c32" stroke-width="0.7"/>
<path d="M556.76,257.31L558.36,260.41L559.96,257.31Z" fill="#c41c32" fill-opacity="0.5" stroke="#c41c32" stroke-width="0.7"/>
<path d="M562.10,262.45L563.70,265.55L565.30,262.45Z" fill="#c41c32" fill-opacity="0.5" stroke="#c41c32" stroke-width="0.7"/>
<path d="M567.44,259.10L569.04,262.20L570.64,259.10Z" fill="#c41c32" fill-opacity="0.5" stroke="#c41c32" stroke-width="0.7"/>
<path d="M572.77,267.80L574.37,270.90L575.97,267.80Z" fill="#c41c32" fill-opacity="0.5" stroke="#c41c32" stroke-width="0.7"/>
<path d="M578.11,270.03L579.71,273.13L581.31,270.03Z" fill="#c41c32" fill-opacity="0.5" stroke="#c41c32" stroke-width="0.7"/>
<path d="M583.45,241.69L585.05,244.79L586.65,241.69Z" fill="#c41c32" fill-opacity="0.5" stroke="#c41c32" stroke-width="0.7"/>
<path d="M588.79,261.11L590.39,264.21L591.99,261.11Z" fill="#c41c32" fill-opacity="0.5" stroke="#c41c32" stroke-width="0.7"/>
<text x="720.60" y="217.00" font-size="11.5" text-anchor="middle" fill="#111">Down-Up</text>
<text x="718.00" y="230.60" font-size="7.8" font-style="italic" text-anchor="middle" fill="#111" stroke="#111" stroke-width="0.15">CIT</text>
<rect x="644.00" y="221.70" width="149.30" height="135.00" fill="none" stroke="#333" stroke-width="1"/>
<line x1="644.00" y1="281.28" x2="793.30" y2="281.28" stroke="#111" stroke-width="1"/>
<line x1="641.00" y1="248.47" x2="644.00" y2="248.47" stroke="#333" stroke-width="1"/>
<text transform="translate(637.50,248.47) rotate(-90)" font-size="7" text-anchor="middle" fill="#666">1</text>
<line x1="641.00" y1="281.28" x2="644.00" y2="281.28" stroke="#333" stroke-width="1"/>
<text transform="translate(637.50,281.28) rotate(-90)" font-size="7" text-anchor="middle" fill="#666">0</text>
<line x1="641.00" y1="314.30" x2="644.00" y2="314.30" stroke="#333" stroke-width="1"/>
<text transform="translate(637.50,314.30) rotate(-90)" font-size="7" text-anchor="middle" fill="#666">−1</text>
<line x1="641.00" y1="347.11" x2="644.00" y2="347.11" stroke="#333" stroke-width="1"/>
<text transform="translate(637.50,347.11) rotate(-90)" font-size="7" text-anchor="middle" fill="#666">−2</text>
<line x1="649.50" y1="356.70" x2="649.50" y2="359.70" stroke="#333" stroke-width="1"/>
<text x="649.50" y="366.90" font-size="7" text-anchor="middle" fill="#666">0</text>
<line x1="676.14" y1="356.70" x2="676.14" y2="359.70" stroke="#333" stroke-width="1"/>
<text x="676.14" y="366.90" font-size="7" text-anchor="middle" fill="#666">5</text>
<line x1="702.79" y1="356.70" x2="702.79" y2="359.70" stroke="#333" stroke-width="1"/>
<text x="702.79" y="366.90" font-size="7" text-anchor="middle" fill="#666">10</text>
<line x1="729.43" y1="356.70" x2="729.43" y2="359.70" stroke="#333" stroke-width="1"/>
<text x="729.43" y="366.90" font-size="7" text-anchor="middle" fill="#666">15</text>
<line x1="756.07" y1="356.70" x2="756.07" y2="359.70" stroke="#333" stroke-width="1"/>
<text x="756.07" y="366.90" font-size="7" text-anchor="middle" fill="#666">20</text>
<line x1="782.72" y1="356.70" x2="782.72" y2="359.70" stroke="#333" stroke-width="1"/>
<text x="782.72" y="366.90" font-size="7" text-anchor="middle" fill="#666">25</text>
<text x="716.65" y="376.70" font-size="7" text-anchor="middle" fill="#666">Day</text>
<text transform="translate(630.00,286.40) rotate(-90)" font-size="8.5" text-anchor="middle" fill="#111">Log2(Fold–Change (TPM+1))</text>
<path d="M651.53,282.55L652.79,283.35M655.99,286.72L658.99,292.12M661.74,296.02L663.89,298.45M666.37,298.01L669.92,289.08M672.04,288.92L674.91,293.72M677.49,293.80L680.12,289.95M683.87,288.07L684.40,288.09M687.37,290.52L691.55,307.51M692.73,307.52L696.85,291.63M699.82,289.71L700.42,289.81M704.02,288.14L706.88,283.34M709.67,283.10L711.89,285.70M714.80,285.54L717.42,281.70M721.17,279.71L721.70,279.71M726.25,278.64L727.29,278.11M730.52,279.18L733.67,285.38M736.06,285.51L738.79,281.28M742.49,279.27L743.02,279.27M747.69,278.51L748.47,278.24M752.47,279.15L754.35,280.95M758.40,282.03L759.08,281.86M762.99,279.48L765.14,277.05M768.57,273.71L770.22,272.33M773.34,268.76L776.11,264.34M778.42,264.47L781.68,271.30M784.24,271.61L786.52,268.85" fill="none" stroke="#3d4b94" stroke-width="0.9"/>
<path d="M647.90,282.48L649.50,279.38L651.10,282.48Z" fill="#3a4585" fill-opacity="0.5" stroke="#3a4585" stroke-width="0.7"/>
<path d="M653.23,285.82L654.83,282.72L656.43,285.82Z" fill="#3a4585" fill-opacity="0.5" stroke="#3a4585" stroke-width="0.7"/>
<path d="M658.55,295.42L660.15,292.32L661.75,295.42Z" fill="#3a4585" fill-opacity="0.5" stroke="#3a4585" stroke-width="0.7"/>
<path d="M663.88,301.44L665.48,298.34L667.08,301.44Z" fill="#3a4585" fill-opacity="0.5" stroke="#3a4585" stroke-width="0.7"/>
<path d="M669.21,288.05L670.81,284.95L672.41,288.05Z" fill="#3a4585" fill-opacity="0.5" stroke="#3a4585" stroke-width="0.7"/>
<path d="M674.54,296.98L676.14,293.88L677.74,296.98Z" fill="#3a4585" fill-opacity="0.5" stroke="#3a4585" stroke-width="0.7"/>
<path d="M679.87,289.17L681.47,286.07L683.07,289.17Z" fill="#3a4585" fill-opacity="0.5" stroke="#3a4585" stroke-width="0.7"/>
<path d="M685.20,289.39L686.80,286.29L688.40,289.39Z" fill="#3a4585" fill-opacity="0.5" stroke="#3a4585" stroke-width="0.7"/>
<path d="M690.53,311.04L692.13,307.94L693.73,311.04Z" fill="#3a4585" fill-opacity="0.5" stroke="#3a4585" stroke-width="0.7"/>
<path d="M695.86,290.51L697.46,287.41L699.06,290.51Z" fill="#3a4585" fill-opacity="0.5" stroke="#3a4585" stroke-width="0.7"/>
<path d="M701.19,291.40L702.79,288.30L704.39,291.40Z" fill="#3a4585" fill-opacity="0.5" stroke="#3a4585" stroke-width="0.7"/>
<path d="M706.51,282.48L708.11,279.38L709.71,282.48Z" fill="#3a4585" fill-opacity="0.5" stroke="#3a4585" stroke-width="0.7"/>
<path d="M711.84,288.72L713.44,285.62L715.04,288.72Z" fill="#3a4585" fill-opacity="0.5" stroke="#3a4585" stroke-width="0.7"/>
<path d="M717.17,280.91L718.77,277.81L720.37,280.91Z" fill="#3a4585" fill-opacity="0.5" stroke="#3a4585" stroke-width="0.7"/>
<path d="M722.50,280.91L724.10,277.81L725.70,280.91Z" fill="#3a4585" fill-opacity="0.5" stroke="#3a4585" stroke-width="0.7"/>
<path d="M727.83,278.24L729.43,275.14L731.03,278.24Z" fill="#3a4585" fill-opacity="0.5" stroke="#3a4585" stroke-width="0.7"/>
<path d="M733.16,288.72L734.76,285.62L736.36,288.72Z" fill="#3a4585" fill-opacity="0.5" stroke="#3a4585" stroke-width="0.7"/>
<path d="M738.49,280.47L740.09,277.37L741.69,280.47Z" fill="#3a4585" fill-opacity="0.5" stroke="#3a4585" stroke-width="0.7"/>
<path d="M743.82,280.47L745.42,277.37L747.02,280.47Z" fill="#3a4585" fill-opacity="0.5" stroke="#3a4585" stroke-width="0.7"/>
<path d="M749.15,278.68L750.75,275.58L752.35,278.68Z" fill="#3a4585" fill-opacity="0.5" stroke="#3a4585" stroke-width="0.7"/>
<path d="M754.47,283.82L756.07,280.72L757.67,283.82Z" fill="#3a4585" fill-opacity="0.5" stroke="#3a4585" stroke-width="0.7"/>
<path d="M759.80,282.48L761.40,279.38L763.00,282.48Z" fill="#3a4585" fill-opacity="0.5" stroke="#3a4585" stroke-width="0.7"/>
<path d="M765.13,276.45L766.73,273.35L768.33,276.45Z" fill="#3a4585" fill-opacity="0.5" stroke="#3a4585" stroke-width="0.7"/>
<path d="M770.46,271.99L772.06,268.89L773.66,271.99Z" fill="#3a4585" fill-opacity="0.5" stroke="#3a4585" stroke-width="0.7"/>
<path d="M775.79,263.51L777.39,260.41L778.99,263.51Z" fill="#3a4585" fill-opacity="0.5" stroke="#3a4585" stroke-width="0.7"/>
<path d="M781.12,274.67L782.72,271.57L784.32,274.67Z" fill="#3a4585" fill-opacity="0.5" stroke="#3a4585" stroke-width="0.7"/>
<path d="M786.45,268.19L788.05,265.09L789.65,268.19Z" fill="#3a4585" fill-opacity="0.5" stroke="#3a4585" stroke-width="0.7"/>
<path d="M651.15,283.01L653.17,285.12M655.02,289.25L659.96,349.40M661.28,349.67L664.36,343.87M667.59,340.60L668.70,340.00M671.81,336.67L675.14,329.43M676.91,324.97L680.70,313.68M682.70,309.34L685.57,304.54M687.65,304.72L691.28,314.29M692.79,314.23L696.79,300.32M699.84,298.31L700.40,298.38M703.53,296.40L707.37,284.67M709.28,284.49L712.28,289.89M713.96,289.64L718.25,270.23M719.76,270.08L723.11,277.53M724.80,277.42L728.73,264.60M730.54,264.44L733.65,270.44M735.86,270.44L738.98,264.44M741.68,260.51L743.83,258.08M746.45,258.45L749.71,265.28M752.05,265.42L754.77,261.20M758.03,260.58L759.45,261.59M762.36,260.78L765.78,252.91M768.69,252.10L770.11,253.11M772.80,252.21L776.65,240.27M777.89,240.33L782.22,260.63M783.51,260.71L787.25,250.07" fill="none" stroke="#d42430" stroke-width="0.9"/>
<path d="M647.90,280.08L649.50,283.18L651.10,280.08Z" fill="#c41c32" fill-opacity="0.5" stroke="#c41c32" stroke-width="0.7"/>
<path d="M653.23,285.65L654.83,288.75L656.43,285.65Z" fill="#c41c32" fill-opacity="0.5" stroke="#c41c32" stroke-width="0.7"/>
<path d="M658.55,350.59L660.15,353.69L661.75,350.59Z" fill="#c41c32" fill-opacity="0.5" stroke="#c41c32" stroke-width="0.7"/>
<path d="M663.88,340.55L665.48,343.65L667.08,340.55Z" fill="#c41c32" fill-opacity="0.5" stroke="#c41c32" stroke-width="0.7"/>
<path d="M669.21,337.65L670.81,340.75L672.41,337.65Z" fill="#c41c32" fill-opacity="0.5" stroke="#c41c32" stroke-width="0.7"/>
<path d="M674.54,326.05L676.14,329.15L677.74,326.05Z" fill="#c41c32" fill-opacity="0.5" stroke="#c41c32" stroke-width="0.7"/>
<path d="M679.87,310.20L681.47,313.30L683.07,310.20Z" fill="#c41c32" fill-opacity="0.5" stroke="#c41c32" stroke-width="0.7"/>
<path d="M685.20,301.28L686.80,304.38L688.40,301.28Z" fill="#c41c32" fill-opacity="0.5" stroke="#c41c32" stroke-width="0.7"/>
<path d="M690.53,315.33L692.13,318.43L693.73,315.33Z" fill="#c41c32" fill-opacity="0.5" stroke="#c41c32" stroke-width="0.7"/>
<path d="M695.86,296.81L697.46,299.91L699.06,296.81Z" fill="#c41c32" fill-opacity="0.5" stroke="#c41c32" stroke-width="0.7"/>
<path d="M701.19,297.48L702.79,300.58L704.39,297.48Z" fill="#c41c32" fill-opacity="0.5" stroke="#c41c32" stroke-width="0.7"/>
<path d="M706.51,281.19L708.11,284.29L709.71,281.19Z" fill="#c41c32" fill-opacity="0.5" stroke="#c41c32" stroke-width="0.7"/>
<path d="M711.84,290.79L713.44,293.89L715.04,290.79Z" fill="#c41c32" fill-opacity="0.5" stroke="#c41c32" stroke-width="0.7"/>
<path d="M717.17,266.69L718.77,269.79L720.37,266.69Z" fill="#c41c32" fill-opacity="0.5" stroke="#c41c32" stroke-width="0.7"/>
<path d="M722.50,278.51L724.10,281.61L725.70,278.51Z" fill="#c41c32" fill-opacity="0.5" stroke="#c41c32" stroke-width="0.7"/>
<path d="M727.83,261.11L729.43,264.21L731.03,261.11Z" fill="#c41c32" fill-opacity="0.5" stroke="#c41c32" stroke-width="0.7"/>
<path d="M733.16,271.37L734.76,274.47L736.36,271.37Z" fill="#c41c32" fill-opacity="0.5" stroke="#c41c32" stroke-width="0.7"/>
<path d="M738.49,261.11L740.09,264.21L741.69,261.11Z" fill="#c41c32" fill-opacity="0.5" stroke="#c41c32" stroke-width="0.7"/>
<path d="M743.82,255.08L745.42,258.18L747.02,255.08Z" fill="#c41c32" fill-opacity="0.5" stroke="#c41c32" stroke-width="0.7"/>
<path d="M749.15,266.24L750.75,269.34L752.35,266.24Z" fill="#c41c32" fill-opacity="0.5" stroke="#c41c32" stroke-width="0.7"/>
<path d="M754.47,257.98L756.07,261.08L757.67,257.98Z" fill="#c41c32" fill-opacity="0.5" stroke="#c41c32" stroke-width="0.7"/>
<path d="M759.80,261.78L761.40,264.88L763.00,261.78Z" fill="#c41c32" fill-opacity="0.5" stroke="#c41c32" stroke-width="0.7"/>
<path d="M765.13,249.50L766.73,252.60L768.33,249.50Z" fill="#c41c32" fill-opacity="0.5" stroke="#c41c32" stroke-width="0.7"/>
<path d="M770.46,253.30L772.06,256.40L773.66,253.30Z" fill="#c41c32" fill-opacity="0.5" stroke="#c41c32" stroke-width="0.7"/>
<path d="M775.79,236.78L777.39,239.88L778.99,236.78Z" fill="#c41c32" fill-opacity="0.5" stroke="#c41c32" stroke-width="0.7"/>
<path d="M781.12,261.78L782.72,264.88L784.32,261.78Z" fill="#c41c32" fill-opacity="0.5" stroke="#c41c32" stroke-width="0.7"/>
<path d="M786.45,246.60L788.05,249.70L789.65,246.60Z" fill="#c41c32" fill-opacity="0.5" stroke="#c41c32" stroke-width="0.7"/>
<defs><linearGradient id="ck" x1="0" x2="1" y1="0" y2="0"><stop offset="0" stop-color="#6cba4c"/><stop offset="0.27" stop-color="#46b649"/><stop offset="0.41" stop-color="#62a045"/><stop offset="0.47" stop-color="#80843a"/><stop offset="0.64" stop-color="#a8582e"/><stop offset="0.85" stop-color="#d43028"/><stop offset="1" stop-color="#ee1c25"/></linearGradient></defs>
<rect x="37" y="425.5" width="77.5" height="56.5" fill="url(#ck)" stroke="#333" stroke-width="0.8"/>
<line x1="69.6" y1="426" x2="69.6" y2="482" stroke="#86c99c" stroke-width="1.8"/>
<path d="M38,481.3H68.7M70.5,481.3H113.2V474.5H114.3" fill="none" stroke="#8fd0c0" stroke-width="0.7" stroke-opacity="0.7"/>
<text x="75.7" y="413.5" font-size="9.8" font-weight="bold" text-anchor="middle" fill="#111">Color Key</text>
<text x="75.7" y="424.8" font-size="10" font-weight="bold" text-anchor="middle" fill="#111">and Histogram</text>
<line x1="44.4" y1="482.3" x2="44.4" y2="486.5" stroke="#333" stroke-width="0.9"/>
<text x="44.4" y="499.9" font-size="8.4" text-anchor="middle" fill="#111">−2</text>
<line x1="60.3" y1="482.3" x2="60.3" y2="486.5" stroke="#333" stroke-width="0.9"/>
<line x1="75.8" y1="482.3" x2="75.8" y2="486.5" stroke="#333" stroke-width="0.9"/>
<text x="75.8" y="499.9" font-size="8.4" text-anchor="middle" fill="#111">0</text>
<line x1="91.5" y1="482.3" x2="91.5" y2="486.5" stroke="#333" stroke-width="0.9"/>
<text x="91.5" y="499.9" font-size="8.4" text-anchor="middle" fill="#111">1</text>
<line x1="107.1" y1="482.3" x2="107.1" y2="486.5" stroke="#333" stroke-width="0.9"/>
<text x="107.1" y="499.9" font-size="8.4" text-anchor="middle" fill="#111">2</text>
<line x1="32.5" y1="482" x2="37" y2="482" stroke="#333" stroke-width="0.9"/>
<text transform="translate(25.2,482) rotate(-90)" font-size="8.4" text-anchor="middle" fill="#111">0</text>
<line x1="32.5" y1="465.8" x2="37" y2="465.8" stroke="#333" stroke-width="0.9"/>
<text transform="translate(25.2,465.8) rotate(-90)" font-size="8.4" text-anchor="middle" fill="#111">50</text>
<line x1="32.5" y1="449.4" x2="37" y2="449.4" stroke="#333" stroke-width="0.9"/>
<line x1="32.5" y1="433.1" x2="37" y2="433.1" stroke="#333" stroke-width="0.9"/>
<text transform="translate(25.2,433.1) rotate(-90)" font-size="8.4" text-anchor="middle" fill="#111">150</text>
<text transform="translate(15.3,453.5) rotate(-90)" font-size="10.6" text-anchor="middle" fill="#111">Count</text>
<text x="75.7" y="509.6" font-size="10.9" text-anchor="middle" fill="#111">Row Z−Score</text>
<rect x="314.1" y="398.2" width="206.50" height="196.90" fill="#6d993e"/>
<rect x="314.10" y="450.71" width="25.81" height="6.56" fill="#7a833a" shape-rendering="crispEdges"/>
<rect x="314.10" y="463.83" width="25.81" height="6.56" fill="#837c38" shape-rendering="crispEdges"/>
<rect x="314.10" y="581.97" width="25.81" height="6.56" fill="#7d7a3a" shape-rendering="crispEdges"/>
<rect x="314.10" y="588.54" width="25.81" height="6.56" fill="#eb1c24" shape-rendering="crispEdges"/>
<rect x="339.91" y="463.83" width="25.81" height="6.56" fill="#8d6f34" shape-rendering="crispEdges"/>
<rect x="339.91" y="581.97" width="25.81" height="6.56" fill="#eb1c24" shape-rendering="crispEdges"/>
<rect x="339.91" y="588.54" width="25.81" height="6.56" fill="#738e3c" shape-rendering="crispEdges"/>
<rect x="365.73" y="463.83" width="25.81" height="6.56" fill="#50aa46" shape-rendering="crispEdges"/>
<rect x="391.54" y="444.14" width="25.81" height="6.56" fill="#768b3c" shape-rendering="crispEdges"/>
<rect x="391.54" y="450.71" width="25.81" height="6.56" fill="#7b843a" shape-rendering="crispEdges"/>
<rect x="391.54" y="457.27" width="25.81" height="6.56" fill="#966230" shape-rendering="crispEdges"/>
<rect x="391.54" y="463.83" width="25.81" height="6.56" fill="#e2262a" shape-rendering="crispEdges"/>
<rect x="391.54" y="581.97" width="25.81" height="6.56" fill="#7d7a3a" shape-rendering="crispEdges"/>
<rect x="417.35" y="463.83" width="25.81" height="6.56" fill="#50aa46" shape-rendering="crispEdges"/>
<rect x="417.35" y="470.40" width="25.81" height="111.58" fill="#eb1c24" shape-rendering="crispEdges"/>
<rect x="443.16" y="398.20" width="25.81" height="65.63" fill="#eb1c24" shape-rendering="crispEdges"/>
<rect x="443.16" y="463.83" width="25.81" height="6.56" fill="#c9382a" shape-rendering="crispEdges"/>
<rect x="443.16" y="470.40" width="25.81" height="6.56" fill="#a5552e" shape-rendering="crispEdges"/>
<rect x="443.16" y="476.96" width="25.81" height="6.56" fill="#8b6c35" shape-rendering="crispEdges"/>
<rect x="468.98" y="463.83" width="25.81" height="6.56" fill="#50aa46" shape-rendering="crispEdges"/>
<rect x="494.79" y="463.83" width="25.81" height="6.56" fill="#50aa46" shape-rendering="crispEdges"/>
<text x="537.5" y="403.68" font-size="6.85" fill="#111" stroke="#111" stroke-width="0.15">GO:0051171–regulation of nitrogen compound metabolic process</text>
<text x="537.5" y="410.25" font-size="6.85" fill="#111" stroke="#111" stroke-width="0.15">GO:0045595–regulation of cell differentiation</text>
<text x="537.5" y="416.81" font-size="6.85" fill="#111" stroke="#111" stroke-width="0.15">GO:0080090–regulation of primary metabolic process</text>
<text x="537.5" y="423.37" font-size="6.85" fill="#111" stroke="#111" stroke-width="0.15">GO:0009889–regulation of biosynthetic process</text>
<text x="537.5" y="429.94" font-size="6.85" fill="#111" stroke="#111" stroke-width="0.15">GO:0060255–regulation of macromolecule metabolic process</text>
<text x="537.5" y="436.50" font-size="6.85" fill="#111" stroke="#111" stroke-width="0.15">GO:0019222–regulation of metabolic process</text>
<text x="537.5" y="443.06" font-size="6.85" fill="#111" stroke="#111" stroke-width="0.15">GO:0031323–regulation of cellular metabolic process</text>
<text x="537.5" y="449.62" font-size="6.85" fill="#111" stroke="#111" stroke-width="0.15">GO:0050793–regulation of developmental process</text>
<text x="537.5" y="456.19" font-size="6.85" fill="#111" stroke="#111" stroke-width="0.15">GO:0030154–cell differentiation</text>
<text x="537.5" y="462.75" font-size="6.85" fill="#111" stroke="#111" stroke-width="0.15">GO:0048513–organ development</text>
<text x="537.5" y="469.31" font-size="6.85" fill="#111" stroke="#111" stroke-width="0.15">GO:0048731–system development</text>
<text x="537.5" y="475.88" font-size="6.85" fill="#111" stroke="#111" stroke-width="0.15">GO:0006139–nucleobase, nucleoside, nucleotide and nucleic acid metabolic process</text>
<text x="537.5" y="482.44" font-size="6.85" fill="#111" stroke="#111" stroke-width="0.15">GO:0034641–cellular nitrogen compound metabolic process</text>
<text x="537.5" y="489.00" font-size="6.85" fill="#111" stroke="#111" stroke-width="0.15">GO:0007010–cytoskeleton organization</text>
<text x="537.5" y="495.57" font-size="6.85" fill="#111" stroke="#111" stroke-width="0.15">GO:0048285–organelle fission</text>
<text x="537.5" y="502.13" font-size="6.85" fill="#111" stroke="#111" stroke-width="0.15">GO:0033554–cellular response to stress</text>
<text x="537.5" y="508.69" font-size="6.85" fill="#111" stroke="#111" stroke-width="0.15">GO:0000819–sister chromatid segregation</text>
<text x="537.5" y="515.26" font-size="6.85" fill="#111" stroke="#111" stroke-width="0.15">GO:0022402–cell cycle process</text>
<text x="537.5" y="521.82" font-size="6.85" fill="#111" stroke="#111" stroke-width="0.15">GO:0000226–microtubule cytoskeleton organization</text>
<text x="537.5" y="528.38" font-size="6.85" fill="#111" stroke="#111" stroke-width="0.15">GO:0000910–cytokinesis</text>
<text x="537.5" y="534.95" font-size="6.85" fill="#111" stroke="#111" stroke-width="0.15">GO:0051276–chromosome organization</text>
<text x="537.5" y="541.51" font-size="6.85" fill="#111" stroke="#111" stroke-width="0.15">GO:0022403–cell cycle phase</text>
<text x="537.5" y="548.08" font-size="6.85" fill="#111" stroke="#111" stroke-width="0.15">GO:0051726–regulation of cell cycle</text>
<text x="537.5" y="554.64" font-size="6.85" fill="#111" stroke="#111" stroke-width="0.15">GO:0006974–response to DNA damage stimulus</text>
<text x="537.5" y="561.20" font-size="6.85" fill="#111" stroke="#111" stroke-width="0.15">GO:0051303–establishment of chromosome localization</text>
<text x="537.5" y="567.77" font-size="6.85" fill="#111" stroke="#111" stroke-width="0.15">GO:0000278–mitotic cell cycle</text>
<text x="537.5" y="574.33" font-size="6.85" fill="#111" stroke="#111" stroke-width="0.15">GO:0030261–chromosome condensation</text>
<text x="537.5" y="580.89" font-size="6.85" fill="#111" stroke="#111" stroke-width="0.15">GO:0051321–meiotic cell cycle</text>
<text x="537.5" y="587.46" font-size="6.85" fill="#111" stroke="#111" stroke-width="0.15">GO:0007267–cell–cell signaling</text>
<text x="537.5" y="594.02" font-size="6.85" fill="#111" stroke="#111" stroke-width="0.15">GO:0031175–neuron projection development</text>
<text transform="translate(327.61,610.5) rotate(-90)" font-size="13" text-anchor="end" fill="#111">Up–EE (349)</text>
<text transform="translate(353.42,610.5) rotate(-90)" font-size="13" text-anchor="end" fill="#111">Up–Up (348)</text>
<text transform="translate(379.23,610.5) rotate(-90)" font-size="13" text-anchor="end" fill="#111">Up–Down (20)</text>
<text transform="translate(405.04,610.5) rotate(-90)" font-size="13" text-anchor="end" fill="#111">EE–Up (392)</text>
<text transform="translate(430.86,610.5) rotate(-90)" font-size="13" text-anchor="end" fill="#111">Down–EE (641)</text>
<text transform="translate(456.67,610.5) rotate(-90)" font-size="13" text-anchor="end" fill="#111">Down–Down (139)</text>
<text transform="translate(482.48,610.5) rotate(-90)" font-size="13" text-anchor="end" fill="#111">Down–Up (23)</text>
<text transform="translate(508.29,610.5) rotate(-90)" font-size="13" text-anchor="end" fill="#111">EE–Down (170)</text>
<line x1="306.9" y1="401.3" x2="306.9" y2="445" stroke="#333" stroke-width="0.9"/>
<line x1="300.8" y1="447.7" x2="306.9" y2="447.7" stroke="#333" stroke-width="0.9"/>
<line x1="300.8" y1="447.7" x2="300.8" y2="459.7" stroke="#333" stroke-width="0.9"/>
<line x1="300.8" y1="459.7" x2="306.9" y2="459.7" stroke="#333" stroke-width="0.9"/>
<line x1="247.5" y1="454.2" x2="300.8" y2="454.2" stroke="#333" stroke-width="0.9"/>
<line x1="247.5" y1="454.2" x2="247.5" y2="466.7" stroke="#333" stroke-width="0.9"/>
<line x1="247.5" y1="466.7" x2="314" y2="466.7" stroke="#333" stroke-width="0.9"/>
<line x1="139" y1="460.3" x2="247.5" y2="460.3" stroke="#333" stroke-width="0.9"/>
<line x1="139" y1="460.3" x2="139" y2="519.7" stroke="#333" stroke-width="0.9"/>
<line x1="139" y1="519.7" x2="298.5" y2="519.7" stroke="#333" stroke-width="0.9"/>
<line x1="298.5" y1="477" x2="298.5" y2="564.3" stroke="#333" stroke-width="0.9"/>
<line x1="298.5" y1="477" x2="303" y2="477" stroke="#333" stroke-width="0.9"/>
<line x1="303" y1="474" x2="303" y2="480.7" stroke="#333" stroke-width="0.9"/>
<line x1="303" y1="474" x2="306.9" y2="474" stroke="#333" stroke-width="0.9"/>
<line x1="303" y1="480.7" x2="306.9" y2="480.7" stroke="#333" stroke-width="0.9"/>
<line x1="306.9" y1="486" x2="306.9" y2="578.9" stroke="#333" stroke-width="0.9"/>
<line x1="298.5" y1="564.3" x2="306.9" y2="564.3" stroke="#333" stroke-width="0.9"/>
<line x1="133" y1="490.4" x2="133" y2="588.2" stroke="#333" stroke-width="0.9"/>
<line x1="133" y1="490.4" x2="139" y2="490.4" stroke="#333" stroke-width="0.9"/>
<line x1="133" y1="588.2" x2="158.4" y2="588.2" stroke="#333" stroke-width="0.9"/>
<line x1="158.4" y1="585.7" x2="158.4" y2="591.4" stroke="#333" stroke-width="0.9"/>
<line x1="158.4" y1="585.7" x2="307" y2="585.7" stroke="#333" stroke-width="0.9"/>
<line x1="158.4" y1="591.4" x2="314" y2="591.4" stroke="#333" stroke-width="0.9"/>
<text x="163.2" y="456.9" font-size="11.3" fill="#111">Metabolism</text>
<text x="161" y="471.3" font-size="11.3" fill="#111">Development</text>
<text x="184.7" y="514.7" font-size="11.3" fill="#111">Cell Cycle</text>
<text x="154.9" y="532.8" font-size="11.3" fill="#111">Response to stress / DNA</text>
<text x="199.5" y="545.6" font-size="11.3" fill="#111">damage</text>
<text x="172.3" y="579.2" font-size="11.3" fill="#111">Cell-Cell Signaling</text>
<text x="172.7" y="604.7" font-size="11.3" fill="#111">Neuron Projection</text>
<rect x="295.5" y="0.5" width="214" height="15.2" fill="#fff" stroke="#333" stroke-width="1"/>
<line x1="299.8" y1="7.5" x2="322.8" y2="7.5" stroke="#3d4b94" stroke-width="1"/>
<path d="M307.3,10.0L311.8,3.2L316.3,10.0Z" fill="none" stroke="#3d4b94" stroke-width="1"/>
<text x="334.9" y="11.8" font-size="12.4" fill="#111">Lead–3μM</text>
<line x1="404.5" y1="7.5" x2="427.9" y2="7.5" stroke="#d42430" stroke-width="1"/>
<path d="M411.5,5.0L415.8,11.4L420.1,5.0Z" fill="none" stroke="#d42430" stroke-width="1"/>
<text x="439.5" y="11.8" font-size="12.4" fill="#111">Lead–30μM</text>
<text x="-0.8" y="16.6" font-size="17.5" font-weight="bold" fill="#111" stroke="#111" stroke-width="0.4">A</text>
<text x="-0.2" y="407.4" font-size="17.5" font-weight="bold" fill="#111" stroke="#111" stroke-width="0.4">B</text>
</svg>
</body></html>
